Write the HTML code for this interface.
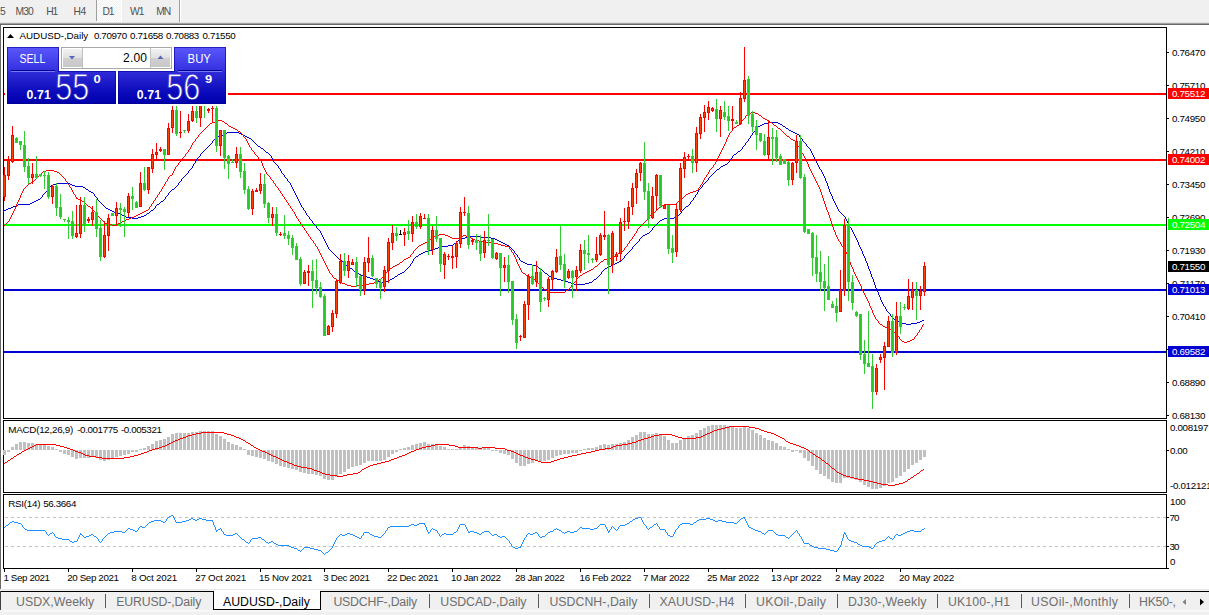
<!DOCTYPE html><html><head><meta charset="utf-8"><title>AUDUSD-,Daily</title>
<style>html,body{margin:0;padding:0;background:#f0f0f0;overflow:hidden}body{width:1209px;height:615px;position:relative;font-family:"Liberation Sans",sans-serif}svg{position:absolute;left:0;top:0;display:block}svg text{font-family:"Liberation Sans",sans-serif;white-space:pre}</style></head><body>
<svg width="1209" height="615" viewBox="0 0 1209 615" shape-rendering="crispEdges">
<defs><linearGradient id="gSell" gradientUnits="userSpaceOnUse" x1="0" y1="47" x2="0" y2="71"><stop offset="0" stop-color="#5a58fc"/><stop offset="1" stop-color="#3430e0"/></linearGradient><linearGradient id="gSellB" gradientUnits="userSpaceOnUse" x1="0" y1="47" x2="0" y2="71"><stop offset="0" stop-color="#2420c8"/><stop offset="1" stop-color="#1410b4"/></linearGradient><linearGradient id="gPriceB" gradientUnits="userSpaceOnUse" x1="0" y1="71" x2="0" y2="104"><stop offset="0" stop-color="#1410b8"/><stop offset="1" stop-color="#000098"/></linearGradient><linearGradient id="gPrice" gradientUnits="userSpaceOnUse" x1="0" y1="71" x2="0" y2="104"><stop offset="0" stop-color="#302cd8"/><stop offset="0.7" stop-color="#0808b8"/><stop offset="1" stop-color="#0000ac"/></linearGradient><linearGradient id="gBtn" x1="0" y1="0" x2="0" y2="1"><stop offset="0" stop-color="#f2f2f2"/><stop offset="0.5" stop-color="#e0e0e0"/><stop offset="0.5" stop-color="#d0d0d0"/><stop offset="1" stop-color="#c8c8c8"/></linearGradient><pattern id="chk" width="2" height="2" patternUnits="userSpaceOnUse"><rect width="2" height="2" fill="#ffffff"/><rect width="1" height="1" fill="#f0f0f0"/><rect x="1" y="1" width="1" height="1" fill="#f0f0f0"/></pattern><linearGradient id="gPrice2" gradientUnits="userSpaceOnUse" x1="0" y1="-28.6" x2="0" y2="4.4"><stop offset="0" stop-color="#302cd8"/><stop offset="0.7" stop-color="#0808b8"/><stop offset="1" stop-color="#0000ac"/></linearGradient></defs>
<rect x="0" y="0" width="1209" height="615" fill="#f0f0f0" />
<rect x="0" y="22" width="1209" height="1" fill="#e3e3e3" />
<rect x="0" y="23" width="1209" height="1" fill="#a0a0a0" />
<rect x="0" y="24" width="1209" height="1" fill="#696969" />
<rect x="0" y="25" width="1209" height="564" fill="#ffffff" />
<rect x="0" y="25" width="1" height="564" fill="#696969" />
<rect x="96" y="0" width="1" height="21" fill="#a0a0a0" />
<rect x="97" y="0" width="25" height="22" fill="#ffffff" />
<rect x="97" y="0" width="24" height="21" fill="url(#chk)" />
<rect x="179" y="0" width="1" height="22" fill="#a0a0a0" />
<rect x="180" y="0" width="1" height="22" fill="#ffffff" />
<text x="0" y="15" font-size="10.3" fill="#505050" font-weight="normal" text-anchor="start" textLength="4.6" lengthAdjust="spacing" >5</text>
<text x="15.5" y="15" font-size="10.3" fill="#505050" font-weight="normal" text-anchor="start" textLength="18.2" lengthAdjust="spacing" >M30</text>
<text x="46.3" y="15" font-size="10.3" fill="#505050" font-weight="normal" text-anchor="start" textLength="12" lengthAdjust="spacing" >H1</text>
<text x="73.6" y="15" font-size="10.3" fill="#505050" font-weight="normal" text-anchor="start" textLength="12.6" lengthAdjust="spacing" >H4</text>
<text x="102.4" y="15" font-size="10.3" fill="#505050" font-weight="normal" text-anchor="start" textLength="12" lengthAdjust="spacing" >D1</text>
<text x="130" y="15" font-size="10.3" fill="#505050" font-weight="normal" text-anchor="start" textLength="14.4" lengthAdjust="spacing" >W1</text>
<text x="156.3" y="15" font-size="10.3" fill="#505050" font-weight="normal" text-anchor="start" textLength="15" lengthAdjust="spacing" >MN</text>
<rect x="3.5" y="27.5" width="1163" height="391" fill="#fff" stroke="#000" stroke-width="1"/>
<rect x="3.5" y="420.5" width="1163" height="72" fill="#fff" stroke="#000" stroke-width="1"/>
<rect x="3.5" y="494.5" width="1163" height="74" fill="#fff" stroke="#000" stroke-width="1"/>
<rect x="4" y="93" width="1162" height="2" fill="#ff0000" />
<rect x="4" y="159" width="1162" height="2" fill="#ff0000" />
<rect x="4" y="224" width="1162" height="2" fill="#00ff00" />
<rect x="4" y="289" width="1162" height="2" fill="#0000d2" />
<rect x="4" y="351" width="1162" height="2" fill="#0000d2" />
<path d="M769 122.5h9M764 123.5h5M778 123.5h2M762 124.5h2M780 124.5h2M760 125.5h2M782 125.5h1M758 126.5h2M783 126.5h2M757 127.5h1M785 127.5h1M756 128.5h1M786 128.5h2M756 129.5h1M788 129.5h1M755 130.5h1M789 130.5h2M754 131.5h1M791 131.5h2M227 132.5h12M753 132.5h1M793 132.5h2M225 133.5h2M239 133.5h2M752 133.5h1M795 133.5h2M223 134.5h2M241 134.5h2M752 134.5h1M797 134.5h2M220 135.5h3M243 135.5h2M751 135.5h1M799 135.5h1M218 136.5h2M245 136.5h2M750 136.5h1M799 136.5h1M216 137.5h2M247 137.5h2M750 137.5h1M800 137.5h1M215 138.5h1M249 138.5h2M749 138.5h1M801 138.5h1M214 139.5h1M251 139.5h1M748 139.5h1M802 139.5h1M213 140.5h1M252 140.5h1M748 140.5h1M802 140.5h1M212 141.5h1M253 141.5h1M747 141.5h1M803 141.5h1M212 142.5h1M254 142.5h1M746 142.5h1M804 142.5h1M211 143.5h1M255 143.5h1M745 143.5h1M805 143.5h1M210 144.5h1M256 144.5h1M745 144.5h1M806 144.5h1M209 145.5h1M257 145.5h1M744 145.5h1M806 145.5h1M208 146.5h1M258 146.5h2M743 146.5h1M807 146.5h1M207 147.5h1M260 147.5h1M742 147.5h1M808 147.5h1M206 148.5h1M261 148.5h2M742 148.5h1M809 148.5h1M205 149.5h1M263 149.5h1M741 149.5h1M810 149.5h1M204 150.5h1M264 150.5h1M740 150.5h1M810 150.5h1M203 151.5h1M265 151.5h1M738 151.5h2M811 151.5h1M202 152.5h1M266 152.5h2M737 152.5h1M811 152.5h1M201 153.5h1M268 153.5h1M736 153.5h1M812 153.5h1M200 154.5h1M269 154.5h1M734 154.5h2M812 154.5h1M200 155.5h1M270 155.5h1M733 155.5h1M813 155.5h1M199 156.5h1M271 156.5h1M732 156.5h1M813 156.5h1M198 157.5h1M271 157.5h1M732 157.5h1M814 157.5h1M197 158.5h1M272 158.5h1M731 158.5h1M814 158.5h1M196 159.5h1M272 159.5h1M730 159.5h1M815 159.5h1M196 160.5h1M273 160.5h1M729 160.5h1M815 160.5h1M195 161.5h1M273 161.5h1M729 161.5h1M816 161.5h1M195 162.5h1M274 162.5h1M728 162.5h1M816 162.5h1M194 163.5h1M275 163.5h1M727 163.5h1M817 163.5h1M193 164.5h1M276 164.5h1M725 164.5h2M817 164.5h1M193 165.5h1M277 165.5h1M723 165.5h2M818 165.5h1M192 166.5h1M278 166.5h1M721 166.5h2M818 166.5h1M192 167.5h1M278 167.5h1M720 167.5h1M819 167.5h1M191 168.5h1M279 168.5h1M719 168.5h1M819 168.5h1M190 169.5h1M280 169.5h1M717 169.5h2M820 169.5h1M189 170.5h1M280 170.5h1M716 170.5h1M821 170.5h1M188 171.5h1M281 171.5h1M715 171.5h1M821 171.5h1M188 172.5h1M281 172.5h1M714 172.5h1M822 172.5h1M187 173.5h1M282 173.5h1M713 173.5h1M822 173.5h1M186 174.5h1M283 174.5h1M712 174.5h1M823 174.5h1M185 175.5h1M284 175.5h1M711 175.5h1M823 175.5h1M184 176.5h1M284 176.5h1M710 176.5h1M824 176.5h1M183 177.5h1M285 177.5h1M709 177.5h1M824 177.5h1M182 178.5h1M286 178.5h1M708 178.5h1M825 178.5h1M181 179.5h1M287 179.5h1M708 179.5h1M825 179.5h1M181 180.5h1M287 180.5h1M707 180.5h1M825 180.5h1M180 181.5h1M288 181.5h1M706 181.5h1M826 181.5h1M179 182.5h1M289 182.5h1M705 182.5h1M826 182.5h1M57 183.5h13M178 183.5h1M290 183.5h1M704 183.5h1M827 183.5h1M53 184.5h4M70 184.5h2M178 184.5h1M290 184.5h1M703 184.5h1M827 184.5h1M51 185.5h2M72 185.5h3M177 185.5h1M291 185.5h1M702 185.5h1M827 185.5h1M50 186.5h1M75 186.5h8M176 186.5h1M291 186.5h1M702 186.5h1M828 186.5h1M49 187.5h1M83 187.5h2M175 187.5h1M292 187.5h1M701 187.5h1M828 187.5h1M48 188.5h1M85 188.5h1M174 188.5h1M292 188.5h1M700 188.5h1M828 188.5h1M48 189.5h1M86 189.5h2M172 189.5h2M293 189.5h1M699 189.5h1M829 189.5h1M47 190.5h1M88 190.5h1M171 190.5h1M293 190.5h1M698 190.5h1M829 190.5h1M46 191.5h1M89 191.5h2M170 191.5h1M294 191.5h1M698 191.5h1M829 191.5h1M45 192.5h1M91 192.5h2M169 192.5h1M294 192.5h1M697 192.5h1M830 192.5h1M44 193.5h1M93 193.5h1M168 193.5h1M295 193.5h1M697 193.5h1M830 193.5h1M43 194.5h1M94 194.5h1M168 194.5h1M295 194.5h1M696 194.5h1M831 194.5h1M42 195.5h1M94 195.5h1M167 195.5h1M296 195.5h1M695 195.5h1M831 195.5h1M42 196.5h1M95 196.5h1M166 196.5h1M296 196.5h1M695 196.5h1M832 196.5h1M41 197.5h1M96 197.5h1M165 197.5h1M297 197.5h1M694 197.5h1M832 197.5h1M40 198.5h1M97 198.5h1M165 198.5h1M297 198.5h1M693 198.5h1M832 198.5h1M38 199.5h2M97 199.5h1M164 199.5h1M298 199.5h1M693 199.5h1M833 199.5h1M36 200.5h2M98 200.5h1M163 200.5h1M298 200.5h1M692 200.5h1M833 200.5h1M34 201.5h2M99 201.5h1M161 201.5h2M299 201.5h1M691 201.5h1M834 201.5h1M32 202.5h2M100 202.5h1M160 202.5h1M299 202.5h1M690 202.5h1M834 202.5h1M30 203.5h2M101 203.5h1M159 203.5h1M300 203.5h1M690 203.5h1M835 203.5h1M18 204.5h12M102 204.5h1M157 204.5h2M300 204.5h1M689 204.5h1M835 204.5h1M16 205.5h2M103 205.5h1M156 205.5h1M301 205.5h1M688 205.5h1M836 205.5h1M13 206.5h3M104 206.5h1M155 206.5h1M301 206.5h1M686 206.5h2M836 206.5h1M11 207.5h2M105 207.5h1M155 207.5h1M302 207.5h1M685 207.5h1M837 207.5h1M8 208.5h3M106 208.5h2M154 208.5h1M303 208.5h1M684 208.5h1M837 208.5h1M6 209.5h2M108 209.5h2M153 209.5h1M303 209.5h1M683 209.5h1M838 209.5h1M4 210.5h2M110 210.5h2M151 210.5h2M304 210.5h1M682 210.5h1M838 210.5h1M3 211.5h1M112 211.5h2M150 211.5h1M305 211.5h1M681 211.5h1M839 211.5h1M114 212.5h4M149 212.5h1M305 212.5h1M681 212.5h1M840 212.5h1M118 213.5h2M147 213.5h2M306 213.5h1M680 213.5h1M841 213.5h1M120 214.5h2M146 214.5h1M306 214.5h1M679 214.5h1M842 214.5h1M122 215.5h2M144 215.5h2M307 215.5h1M678 215.5h1M843 215.5h1M124 216.5h2M141 216.5h3M308 216.5h1M676 216.5h2M844 216.5h1M126 217.5h6M138 217.5h3M309 217.5h1M674 217.5h2M845 217.5h1M132 218.5h6M309 218.5h1M664 218.5h10M845 218.5h1M310 219.5h1M662 219.5h2M846 219.5h1M311 220.5h1M660 220.5h2M846 220.5h1M312 221.5h1M659 221.5h1M847 221.5h1M312 222.5h1M658 222.5h1M847 222.5h1M313 223.5h1M657 223.5h1M848 223.5h1M314 224.5h1M656 224.5h1M848 224.5h1M315 225.5h1M655 225.5h1M849 225.5h1M316 226.5h1M654 226.5h1M849 226.5h1M316 227.5h1M653 227.5h1M850 227.5h1M317 228.5h1M652 228.5h1M851 228.5h1M318 229.5h1M652 229.5h1M851 229.5h1M319 230.5h1M651 230.5h1M852 230.5h1M320 231.5h1M650 231.5h1M852 231.5h1M320 232.5h1M649 232.5h1M853 232.5h1M321 233.5h1M647 233.5h2M853 233.5h1M321 234.5h1M645 234.5h2M854 234.5h1M322 235.5h1M643 235.5h2M854 235.5h1M322 236.5h1M468 236.5h12M642 236.5h1M855 236.5h1M323 237.5h1M465 237.5h3M480 237.5h11M641 237.5h1M855 237.5h1M323 238.5h1M462 238.5h3M491 238.5h4M640 238.5h1M856 238.5h1M324 239.5h1M460 239.5h2M495 239.5h2M639 239.5h1M856 239.5h1M324 240.5h1M458 240.5h2M497 240.5h2M639 240.5h1M857 240.5h1M325 241.5h1M457 241.5h1M499 241.5h2M638 241.5h1M857 241.5h1M325 242.5h1M456 242.5h1M501 242.5h2M637 242.5h1M858 242.5h1M326 243.5h1M454 243.5h2M503 243.5h2M636 243.5h1M858 243.5h1M326 244.5h1M453 244.5h1M505 244.5h2M635 244.5h1M858 244.5h1M327 245.5h1M448 245.5h5M507 245.5h2M634 245.5h1M859 245.5h1M327 246.5h1M442 246.5h6M509 246.5h1M633 246.5h1M859 246.5h1M328 247.5h1M438 247.5h4M510 247.5h1M632 247.5h1M860 247.5h1M328 248.5h1M435 248.5h3M511 248.5h1M632 248.5h1M860 248.5h1M329 249.5h1M432 249.5h3M512 249.5h1M631 249.5h1M861 249.5h1M330 250.5h1M428 250.5h4M513 250.5h1M630 250.5h1M861 250.5h1M331 251.5h1M425 251.5h3M514 251.5h1M629 251.5h1M862 251.5h1M332 252.5h1M423 252.5h2M514 252.5h1M628 252.5h1M862 252.5h1M333 253.5h1M421 253.5h2M515 253.5h1M627 253.5h1M862 253.5h1M334 254.5h1M419 254.5h2M516 254.5h1M626 254.5h1M863 254.5h1M335 255.5h1M418 255.5h1M517 255.5h1M625 255.5h1M863 255.5h1M336 256.5h1M416 256.5h2M517 256.5h1M624 256.5h1M864 256.5h1M337 257.5h1M415 257.5h1M518 257.5h1M624 257.5h1M864 257.5h1M338 258.5h1M414 258.5h1M519 258.5h1M623 258.5h1M865 258.5h1M339 259.5h2M413 259.5h1M519 259.5h1M622 259.5h1M865 259.5h1M341 260.5h1M413 260.5h1M520 260.5h1M621 260.5h1M865 260.5h1M342 261.5h1M412 261.5h1M521 261.5h2M619 261.5h2M866 261.5h1M343 262.5h1M412 262.5h1M523 262.5h2M617 262.5h2M866 262.5h1M344 263.5h1M411 263.5h1M525 263.5h2M615 263.5h2M867 263.5h1M345 264.5h1M410 264.5h1M527 264.5h5M613 264.5h2M867 264.5h1M346 265.5h2M410 265.5h1M532 265.5h4M611 265.5h2M867 265.5h1M348 266.5h1M409 266.5h1M536 266.5h2M609 266.5h2M868 266.5h1M349 267.5h1M408 267.5h1M538 267.5h1M607 267.5h2M868 267.5h1M350 268.5h2M407 268.5h1M539 268.5h1M605 268.5h2M868 268.5h1M352 269.5h1M406 269.5h1M540 269.5h2M604 269.5h1M869 269.5h1M353 270.5h1M405 270.5h1M542 270.5h1M603 270.5h1M869 270.5h1M354 271.5h2M404 271.5h1M543 271.5h1M602 271.5h1M870 271.5h1M356 272.5h1M402 272.5h2M544 272.5h1M601 272.5h1M870 272.5h1M357 273.5h2M400 273.5h2M545 273.5h2M601 273.5h1M870 273.5h1M359 274.5h2M398 274.5h2M547 274.5h1M600 274.5h1M871 274.5h1M361 275.5h2M397 275.5h1M548 275.5h1M599 275.5h1M871 275.5h1M363 276.5h4M395 276.5h2M549 276.5h2M598 276.5h1M871 276.5h1M367 277.5h3M394 277.5h1M551 277.5h3M597 277.5h1M872 277.5h1M370 278.5h3M392 278.5h2M554 278.5h3M596 278.5h1M872 278.5h1M373 279.5h3M390 279.5h2M557 279.5h4M594 279.5h2M873 279.5h1M376 280.5h2M388 280.5h2M561 280.5h3M593 280.5h1M873 280.5h1M378 281.5h2M384 281.5h4M564 281.5h4M592 281.5h1M873 281.5h1M380 282.5h4M568 282.5h3M589 282.5h3M874 282.5h1M571 283.5h3M585 283.5h4M874 283.5h1M574 284.5h11M874 284.5h1M875 285.5h1M875 286.5h1M875 287.5h1M876 288.5h1M876 289.5h1M877 290.5h1M877 291.5h1M878 292.5h1M878 293.5h1M878 294.5h1M879 295.5h1M879 296.5h1M880 297.5h1M880 298.5h1M880 299.5h1M881 300.5h1M881 301.5h1M882 302.5h1M882 303.5h1M883 304.5h1M883 305.5h1M884 306.5h1M885 307.5h1M885 308.5h1M886 309.5h1M886 310.5h1M887 311.5h1M888 312.5h1M889 313.5h1M890 314.5h1M890 315.5h1M891 316.5h1M892 317.5h1M893 318.5h1M894 319.5h2M896 320.5h2M922 320.5h2M898 321.5h2M920 321.5h2M900 322.5h2M917 322.5h3M902 323.5h4M911 323.5h6M906 324.5h5" fill="none" stroke="#0000d2" stroke-width="1"/>
<path d="M751 112.5h4M749 113.5h2M755 113.5h3M747 114.5h2M758 114.5h1M746 115.5h1M759 115.5h2M745 116.5h1M761 116.5h1M745 117.5h1M762 117.5h1M744 118.5h1M763 118.5h2M743 119.5h1M765 119.5h2M218 120.5h4M742 120.5h1M767 120.5h2M215 121.5h3M222 121.5h2M741 121.5h1M769 121.5h1M212 122.5h3M224 122.5h1M741 122.5h1M770 122.5h2M210 123.5h2M225 123.5h2M740 123.5h1M772 123.5h1M209 124.5h1M227 124.5h1M739 124.5h1M773 124.5h1M208 125.5h1M228 125.5h1M737 125.5h2M774 125.5h2M207 126.5h1M229 126.5h2M736 126.5h1M776 126.5h1M206 127.5h1M231 127.5h2M734 127.5h2M777 127.5h1M205 128.5h1M233 128.5h2M733 128.5h1M778 128.5h2M204 129.5h1M235 129.5h2M732 129.5h1M780 129.5h1M203 130.5h1M237 130.5h1M732 130.5h1M781 130.5h1M202 131.5h1M238 131.5h2M731 131.5h1M782 131.5h1M201 132.5h1M240 132.5h1M730 132.5h1M783 132.5h1M200 133.5h1M241 133.5h1M729 133.5h1M784 133.5h1M199 134.5h1M242 134.5h1M729 134.5h1M785 134.5h1M198 135.5h1M243 135.5h1M728 135.5h1M786 135.5h1M198 136.5h1M243 136.5h1M728 136.5h1M787 136.5h2M197 137.5h1M244 137.5h1M727 137.5h1M789 137.5h1M196 138.5h1M245 138.5h1M727 138.5h1M790 138.5h1M195 139.5h1M246 139.5h1M726 139.5h1M791 139.5h2M195 140.5h1M246 140.5h1M726 140.5h1M793 140.5h2M194 141.5h1M247 141.5h1M726 141.5h1M795 141.5h1M193 142.5h1M247 142.5h1M725 142.5h1M796 142.5h1M192 143.5h1M248 143.5h1M725 143.5h1M796 143.5h1M192 144.5h1M248 144.5h1M724 144.5h1M797 144.5h1M191 145.5h1M249 145.5h1M724 145.5h1M797 145.5h1M191 146.5h1M249 146.5h1M723 146.5h1M798 146.5h1M190 147.5h1M250 147.5h1M723 147.5h1M799 147.5h1M190 148.5h1M251 148.5h1M722 148.5h1M799 148.5h1M189 149.5h1M251 149.5h1M722 149.5h1M800 149.5h1M188 150.5h1M252 150.5h1M721 150.5h1M800 150.5h1M188 151.5h1M253 151.5h1M721 151.5h1M801 151.5h1M187 152.5h1M254 152.5h1M720 152.5h1M801 152.5h1M186 153.5h1M254 153.5h1M720 153.5h1M802 153.5h1M185 154.5h1M255 154.5h1M719 154.5h1M803 154.5h1M185 155.5h1M256 155.5h1M719 155.5h1M803 155.5h1M184 156.5h1M257 156.5h1M718 156.5h1M804 156.5h1M183 157.5h1M258 157.5h1M718 157.5h1M804 157.5h1M182 158.5h1M258 158.5h1M717 158.5h1M805 158.5h1M181 159.5h1M259 159.5h1M717 159.5h1M805 159.5h1M181 160.5h1M260 160.5h1M716 160.5h1M806 160.5h1M180 161.5h1M261 161.5h1M716 161.5h1M806 161.5h1M179 162.5h1M261 162.5h1M715 162.5h1M807 162.5h1M178 163.5h1M262 163.5h1M715 163.5h1M807 163.5h1M178 164.5h1M262 164.5h1M714 164.5h1M808 164.5h1M177 165.5h1M262 165.5h1M713 165.5h1M808 165.5h1M176 166.5h1M263 166.5h1M713 166.5h1M808 166.5h1M175 167.5h1M263 167.5h1M712 167.5h1M809 167.5h1M175 168.5h1M264 168.5h1M711 168.5h1M809 168.5h1M174 169.5h1M264 169.5h1M710 169.5h1M810 169.5h1M46 170.5h8M174 170.5h1M265 170.5h1M709 170.5h1M810 170.5h1M43 171.5h3M54 171.5h3M173 171.5h1M265 171.5h1M709 171.5h1M811 171.5h1M42 172.5h1M57 172.5h2M173 172.5h1M266 172.5h1M708 172.5h1M811 172.5h1M41 173.5h1M59 173.5h1M172 173.5h1M266 173.5h1M708 173.5h1M812 173.5h1M40 174.5h1M60 174.5h1M172 174.5h1M267 174.5h1M707 174.5h1M812 174.5h1M39 175.5h1M61 175.5h1M170 175.5h2M268 175.5h1M706 175.5h1M813 175.5h1M38 176.5h1M62 176.5h1M169 176.5h1M269 176.5h1M706 176.5h1M813 176.5h1M37 177.5h1M63 177.5h1M168 177.5h1M270 177.5h1M705 177.5h1M814 177.5h1M36 178.5h1M64 178.5h1M168 178.5h1M270 178.5h1M704 178.5h1M814 178.5h1M35 179.5h1M65 179.5h1M167 179.5h1M271 179.5h1M704 179.5h1M815 179.5h1M34 180.5h1M65 180.5h1M167 180.5h1M272 180.5h1M703 180.5h1M815 180.5h1M33 181.5h1M66 181.5h1M166 181.5h1M273 181.5h1M703 181.5h1M816 181.5h1M31 182.5h2M67 182.5h1M165 182.5h1M273 182.5h1M702 182.5h1M816 182.5h1M29 183.5h2M67 183.5h1M165 183.5h1M274 183.5h1M702 183.5h1M817 183.5h1M28 184.5h1M68 184.5h1M164 184.5h1M275 184.5h1M701 184.5h1M817 184.5h1M27 185.5h1M69 185.5h1M164 185.5h1M275 185.5h1M700 185.5h1M818 185.5h1M26 186.5h1M69 186.5h1M163 186.5h1M276 186.5h1M700 186.5h1M818 186.5h1M25 187.5h1M70 187.5h1M162 187.5h1M277 187.5h1M699 187.5h1M819 187.5h1M24 188.5h1M71 188.5h1M162 188.5h1M278 188.5h1M698 188.5h1M819 188.5h1M23 189.5h1M71 189.5h1M161 189.5h1M278 189.5h1M698 189.5h1M820 189.5h1M23 190.5h1M72 190.5h1M161 190.5h1M279 190.5h1M696 190.5h2M820 190.5h1M22 191.5h1M72 191.5h1M160 191.5h1M280 191.5h1M693 191.5h3M820 191.5h1M22 192.5h1M73 192.5h1M159 192.5h1M280 192.5h1M690 192.5h3M821 192.5h1M21 193.5h1M73 193.5h1M159 193.5h1M281 193.5h1M688 193.5h2M821 193.5h1M21 194.5h1M74 194.5h1M158 194.5h1M282 194.5h1M686 194.5h2M821 194.5h1M20 195.5h1M75 195.5h1M157 195.5h1M282 195.5h1M685 195.5h1M822 195.5h1M20 196.5h1M75 196.5h1M157 196.5h1M283 196.5h1M684 196.5h1M822 196.5h1M20 197.5h1M76 197.5h1M156 197.5h1M284 197.5h1M683 197.5h1M822 197.5h1M19 198.5h1M76 198.5h2M155 198.5h1M284 198.5h1M682 198.5h1M823 198.5h1M19 199.5h1M78 199.5h3M155 199.5h1M285 199.5h1M681 199.5h1M823 199.5h1M18 200.5h1M81 200.5h1M154 200.5h1M286 200.5h1M680 200.5h1M823 200.5h1M18 201.5h1M82 201.5h2M153 201.5h1M286 201.5h1M678 201.5h2M824 201.5h1M17 202.5h1M84 202.5h1M153 202.5h1M287 202.5h1M677 202.5h1M824 202.5h1M17 203.5h1M85 203.5h1M152 203.5h1M288 203.5h1M676 203.5h1M824 203.5h1M16 204.5h1M86 204.5h1M151 204.5h1M288 204.5h1M664 204.5h12M825 204.5h1M16 205.5h1M87 205.5h1M151 205.5h1M289 205.5h1M662 205.5h2M825 205.5h1M16 206.5h1M88 206.5h2M150 206.5h1M290 206.5h1M661 206.5h1M825 206.5h1M15 207.5h1M90 207.5h1M149 207.5h1M290 207.5h1M659 207.5h2M826 207.5h1M15 208.5h1M91 208.5h1M149 208.5h1M291 208.5h1M658 208.5h1M826 208.5h1M14 209.5h1M92 209.5h1M148 209.5h1M292 209.5h1M657 209.5h1M826 209.5h1M14 210.5h1M93 210.5h1M146 210.5h2M292 210.5h1M656 210.5h1M827 210.5h1M13 211.5h1M94 211.5h1M144 211.5h2M293 211.5h1M655 211.5h1M827 211.5h1M13 212.5h1M95 212.5h1M142 212.5h2M294 212.5h1M654 212.5h1M828 212.5h1M12 213.5h1M96 213.5h1M140 213.5h2M294 213.5h1M652 213.5h2M828 213.5h1M12 214.5h1M96 214.5h1M138 214.5h2M295 214.5h1M651 214.5h1M828 214.5h1M11 215.5h1M97 215.5h1M136 215.5h2M295 215.5h1M650 215.5h1M829 215.5h1M11 216.5h1M98 216.5h1M134 216.5h2M296 216.5h1M649 216.5h1M829 216.5h1M10 217.5h1M99 217.5h1M131 217.5h3M296 217.5h1M648 217.5h1M829 217.5h1M10 218.5h1M100 218.5h1M129 218.5h2M297 218.5h1M647 218.5h1M830 218.5h1M9 219.5h1M101 219.5h1M126 219.5h3M298 219.5h1M647 219.5h1M830 219.5h1M9 220.5h1M102 220.5h1M124 220.5h2M298 220.5h1M646 220.5h1M830 220.5h1M8 221.5h1M103 221.5h1M122 221.5h2M299 221.5h1M645 221.5h1M831 221.5h1M7 222.5h1M104 222.5h1M120 222.5h2M300 222.5h1M644 222.5h1M831 222.5h1M6 223.5h1M105 223.5h2M118 223.5h2M300 223.5h1M643 223.5h1M831 223.5h1M5 224.5h1M107 224.5h5M116 224.5h2M301 224.5h1M642 224.5h1M832 224.5h1M4 225.5h1M112 225.5h4M302 225.5h1M641 225.5h1M832 225.5h1M302 226.5h1M640 226.5h1M832 226.5h1M303 227.5h1M639 227.5h1M833 227.5h1M304 228.5h1M638 228.5h1M833 228.5h1M304 229.5h1M637 229.5h1M833 229.5h1M305 230.5h1M637 230.5h1M834 230.5h1M306 231.5h1M636 231.5h1M834 231.5h1M306 232.5h1M636 232.5h1M835 232.5h1M307 233.5h1M635 233.5h1M835 233.5h1M308 234.5h1M439 234.5h6M634 234.5h1M835 234.5h1M308 235.5h1M435 235.5h4M445 235.5h3M463 235.5h3M634 235.5h1M836 235.5h1M309 236.5h1M434 236.5h1M448 236.5h2M461 236.5h2M466 236.5h3M633 236.5h1M836 236.5h1M310 237.5h1M432 237.5h2M450 237.5h2M459 237.5h2M469 237.5h2M632 237.5h1M837 237.5h1M310 238.5h1M431 238.5h1M452 238.5h7M471 238.5h2M632 238.5h1M837 238.5h1M311 239.5h1M430 239.5h1M473 239.5h2M631 239.5h1M838 239.5h1M312 240.5h1M428 240.5h2M475 240.5h4M630 240.5h1M838 240.5h1M313 241.5h1M427 241.5h1M479 241.5h5M629 241.5h1M839 241.5h1M313 242.5h1M425 242.5h2M484 242.5h8M629 242.5h1M840 242.5h1M314 243.5h1M423 243.5h2M492 243.5h6M628 243.5h1M840 243.5h1M315 244.5h1M421 244.5h2M498 244.5h3M627 244.5h1M841 244.5h1M315 245.5h1M419 245.5h2M501 245.5h4M627 245.5h1M841 245.5h1M316 246.5h1M418 246.5h1M505 246.5h4M626 246.5h1M842 246.5h1M317 247.5h1M417 247.5h1M509 247.5h1M625 247.5h1M843 247.5h1M317 248.5h1M416 248.5h1M509 248.5h1M624 248.5h1M843 248.5h1M318 249.5h1M415 249.5h1M510 249.5h1M624 249.5h1M844 249.5h1M318 250.5h1M414 250.5h1M511 250.5h1M623 250.5h1M845 250.5h1M319 251.5h1M413 251.5h1M511 251.5h1M621 251.5h2M845 251.5h1M319 252.5h1M413 252.5h1M512 252.5h1M620 252.5h1M846 252.5h1M320 253.5h1M412 253.5h1M513 253.5h1M618 253.5h2M846 253.5h1M320 254.5h1M411 254.5h1M513 254.5h1M617 254.5h1M847 254.5h1M321 255.5h1M410 255.5h1M514 255.5h1M616 255.5h1M847 255.5h1M321 256.5h1M410 256.5h1M514 256.5h1M614 256.5h2M847 256.5h1M322 257.5h1M408 257.5h2M515 257.5h1M613 257.5h1M848 257.5h1M322 258.5h1M406 258.5h2M515 258.5h1M608 258.5h5M848 258.5h1M323 259.5h1M404 259.5h2M516 259.5h1M604 259.5h4M849 259.5h1M323 260.5h1M403 260.5h1M516 260.5h1M603 260.5h1M849 260.5h1M324 261.5h1M402 261.5h1M516 261.5h1M601 261.5h2M849 261.5h1M324 262.5h1M400 262.5h2M517 262.5h1M600 262.5h1M850 262.5h1M325 263.5h1M399 263.5h1M517 263.5h1M599 263.5h1M850 263.5h1M325 264.5h1M397 264.5h2M518 264.5h1M598 264.5h1M850 264.5h1M326 265.5h1M395 265.5h2M518 265.5h1M597 265.5h1M851 265.5h1M326 266.5h1M393 266.5h2M519 266.5h1M595 266.5h2M851 266.5h1M327 267.5h1M392 267.5h1M519 267.5h1M594 267.5h1M852 267.5h1M327 268.5h1M390 268.5h2M520 268.5h1M593 268.5h1M852 268.5h1M328 269.5h1M389 269.5h1M520 269.5h1M591 269.5h2M853 269.5h1M328 270.5h1M388 270.5h1M521 270.5h1M589 270.5h2M853 270.5h1M329 271.5h1M387 271.5h1M521 271.5h1M587 271.5h2M853 271.5h1M329 272.5h1M386 272.5h1M522 272.5h1M585 272.5h2M854 272.5h1M330 273.5h1M385 273.5h1M523 273.5h2M583 273.5h2M854 273.5h1M331 274.5h1M385 274.5h1M525 274.5h1M582 274.5h1M855 274.5h1M332 275.5h1M384 275.5h1M526 275.5h2M580 275.5h2M855 275.5h1M332 276.5h1M383 276.5h1M528 276.5h2M579 276.5h1M856 276.5h1M333 277.5h1M382 277.5h1M530 277.5h2M578 277.5h1M856 277.5h1M334 278.5h2M381 278.5h1M532 278.5h2M577 278.5h1M857 278.5h1M336 279.5h1M379 279.5h2M534 279.5h1M576 279.5h1M857 279.5h1M337 280.5h2M378 280.5h1M535 280.5h1M576 280.5h1M858 280.5h1M339 281.5h1M376 281.5h2M536 281.5h1M575 281.5h1M858 281.5h1M340 282.5h2M374 282.5h2M537 282.5h1M574 282.5h1M859 282.5h1M342 283.5h3M369 283.5h5M538 283.5h1M573 283.5h1M859 283.5h1M345 284.5h2M363 284.5h6M539 284.5h1M572 284.5h1M860 284.5h1M347 285.5h4M357 285.5h6M540 285.5h1M571 285.5h1M860 285.5h1M351 286.5h6M541 286.5h1M571 286.5h1M861 286.5h1M542 287.5h1M570 287.5h1M861 287.5h1M543 288.5h1M569 288.5h1M861 288.5h1M544 289.5h2M568 289.5h1M862 289.5h1M546 290.5h1M566 290.5h2M862 290.5h1M547 291.5h2M565 291.5h1M863 291.5h1M549 292.5h16M863 292.5h1M864 293.5h1M864 294.5h1M865 295.5h1M865 296.5h1M866 297.5h1M866 298.5h1M867 299.5h1M867 300.5h1M868 301.5h1M868 302.5h1M869 303.5h1M869 304.5h1M869 305.5h1M870 306.5h1M870 307.5h1M871 308.5h1M871 309.5h1M872 310.5h1M872 311.5h1M872 312.5h1M873 313.5h1M873 314.5h1M874 315.5h1M874 316.5h1M875 317.5h1M875 318.5h1M876 319.5h1M877 320.5h1M878 321.5h1M878 322.5h1M879 323.5h1M880 324.5h2M923 324.5h1M882 325.5h1M922 325.5h1M883 326.5h2M922 326.5h1M885 327.5h2M921 327.5h1M887 328.5h3M921 328.5h1M890 329.5h2M920 329.5h1M892 330.5h1M919 330.5h1M893 331.5h1M919 331.5h1M894 332.5h1M918 332.5h1M895 333.5h1M917 333.5h1M896 334.5h1M917 334.5h1M897 335.5h1M916 335.5h1M898 336.5h1M915 336.5h1M899 337.5h1M914 337.5h1M899 338.5h1M914 338.5h1M900 339.5h1M912 339.5h2M901 340.5h1M910 340.5h2M902 341.5h2M907 341.5h3M904 342.5h3" fill="none" stroke="#ff0000" stroke-width="1"/>
<rect x="4" y="167" width="1" height="34" fill="#ff0000" />
<rect x="3" y="175" width="3" height="22" fill="#ff0000" />
<rect x="4" y="176" width="1" height="20" fill="#ff4000" />
<rect x="8" y="156" width="1" height="24" fill="#ff0000" />
<rect x="7" y="160" width="3" height="16" fill="#ff0000" />
<rect x="8" y="161" width="1" height="14" fill="#ff4000" />
<rect x="12" y="126" width="1" height="37" fill="#ff0000" />
<rect x="11" y="135" width="3" height="27" fill="#ff0000" />
<rect x="12" y="136" width="1" height="25" fill="#ff4000" />
<rect x="16" y="137" width="1" height="6" fill="#32cd32" />
<rect x="15" y="138" width="3" height="5" fill="#32cd32" />
<rect x="16" y="139" width="1" height="3" fill="#28c828" />
<rect x="20" y="141" width="1" height="9" fill="#32cd32" />
<rect x="19" y="141" width="3" height="4" fill="#32cd32" />
<rect x="20" y="142" width="1" height="2" fill="#28c828" />
<rect x="24" y="131" width="1" height="41" fill="#32cd32" />
<rect x="23" y="145" width="3" height="22" fill="#32cd32" />
<rect x="24" y="146" width="1" height="20" fill="#28c828" />
<rect x="28" y="158" width="1" height="26" fill="#32cd32" />
<rect x="27" y="166" width="3" height="12" fill="#32cd32" />
<rect x="28" y="167" width="1" height="10" fill="#28c828" />
<rect x="32" y="163" width="1" height="21" fill="#ff0000" />
<rect x="31" y="174" width="3" height="4" fill="#ff0000" />
<rect x="32" y="175" width="1" height="2" fill="#ff4000" />
<rect x="36" y="156" width="1" height="23" fill="#32cd32" />
<rect x="35" y="174" width="3" height="4" fill="#32cd32" />
<rect x="36" y="175" width="1" height="2" fill="#28c828" />
<rect x="40" y="174" width="1" height="3" fill="#32cd32" />
<rect x="39" y="174" width="3" height="2" fill="#32cd32" />
<rect x="44" y="171" width="1" height="18" fill="#32cd32" />
<rect x="43" y="175" width="3" height="1" fill="#32cd32" />
<rect x="48" y="172" width="1" height="27" fill="#32cd32" />
<rect x="47" y="175" width="3" height="22" fill="#32cd32" />
<rect x="48" y="176" width="1" height="20" fill="#28c828" />
<rect x="52" y="185" width="1" height="19" fill="#ff0000" />
<rect x="51" y="186" width="3" height="11" fill="#ff0000" />
<rect x="52" y="187" width="1" height="9" fill="#ff4000" />
<rect x="56" y="183" width="1" height="33" fill="#32cd32" />
<rect x="55" y="186" width="3" height="22" fill="#32cd32" />
<rect x="56" y="187" width="1" height="20" fill="#28c828" />
<rect x="60" y="194" width="1" height="25" fill="#32cd32" />
<rect x="59" y="207" width="3" height="10" fill="#32cd32" />
<rect x="60" y="208" width="1" height="8" fill="#28c828" />
<rect x="64" y="219" width="1" height="3" fill="#32cd32" />
<rect x="63" y="219" width="3" height="1" fill="#32cd32" />
<rect x="68" y="217" width="1" height="22" fill="#32cd32" />
<rect x="67" y="220" width="3" height="2" fill="#32cd32" />
<rect x="72" y="211" width="1" height="28" fill="#32cd32" />
<rect x="71" y="221" width="3" height="15" fill="#32cd32" />
<rect x="72" y="222" width="1" height="13" fill="#28c828" />
<rect x="76" y="205" width="1" height="33" fill="#ff0000" />
<rect x="75" y="233" width="3" height="4" fill="#ff0000" />
<rect x="76" y="234" width="1" height="2" fill="#ff4000" />
<rect x="80" y="197" width="1" height="41" fill="#ff0000" />
<rect x="79" y="205" width="3" height="29" fill="#ff0000" />
<rect x="80" y="206" width="1" height="27" fill="#ff4000" />
<rect x="84" y="197" width="1" height="35" fill="#32cd32" />
<rect x="83" y="205" width="3" height="21" fill="#32cd32" />
<rect x="84" y="206" width="1" height="19" fill="#28c828" />
<rect x="88" y="217" width="1" height="6" fill="#ff0000" />
<rect x="87" y="219" width="3" height="2" fill="#ff0000" />
<rect x="92" y="206" width="1" height="20" fill="#ff0000" />
<rect x="91" y="212" width="3" height="8" fill="#ff0000" />
<rect x="92" y="213" width="1" height="6" fill="#ff4000" />
<rect x="96" y="199" width="1" height="38" fill="#32cd32" />
<rect x="95" y="212" width="3" height="17" fill="#32cd32" />
<rect x="96" y="213" width="1" height="15" fill="#28c828" />
<rect x="100" y="220" width="1" height="41" fill="#32cd32" />
<rect x="99" y="228" width="3" height="29" fill="#32cd32" />
<rect x="100" y="229" width="1" height="27" fill="#28c828" />
<rect x="104" y="221" width="1" height="37" fill="#ff0000" />
<rect x="103" y="235" width="3" height="22" fill="#ff0000" />
<rect x="104" y="236" width="1" height="20" fill="#ff4000" />
<rect x="108" y="214" width="1" height="37" fill="#ff0000" />
<rect x="107" y="218" width="3" height="18" fill="#ff0000" />
<rect x="108" y="219" width="1" height="16" fill="#ff4000" />
<rect x="112" y="213" width="1" height="3" fill="#32cd32" />
<rect x="111" y="213" width="3" height="3" fill="#32cd32" />
<rect x="112" y="214" width="1" height="1" fill="#28c828" />
<rect x="116" y="202" width="1" height="24" fill="#ff0000" />
<rect x="115" y="208" width="3" height="8" fill="#ff0000" />
<rect x="116" y="209" width="1" height="6" fill="#ff4000" />
<rect x="120" y="203" width="1" height="24" fill="#32cd32" />
<rect x="119" y="208" width="3" height="2" fill="#32cd32" />
<rect x="124" y="207" width="1" height="30" fill="#32cd32" />
<rect x="123" y="209" width="3" height="3" fill="#32cd32" />
<rect x="124" y="210" width="1" height="1" fill="#28c828" />
<rect x="128" y="193" width="1" height="24" fill="#ff0000" />
<rect x="127" y="196" width="3" height="17" fill="#ff0000" />
<rect x="128" y="197" width="1" height="15" fill="#ff4000" />
<rect x="132" y="187" width="1" height="23" fill="#32cd32" />
<rect x="131" y="196" width="3" height="3" fill="#32cd32" />
<rect x="132" y="197" width="1" height="1" fill="#28c828" />
<rect x="136" y="201" width="1" height="7" fill="#32cd32" />
<rect x="135" y="202" width="3" height="6" fill="#32cd32" />
<rect x="136" y="203" width="1" height="4" fill="#28c828" />
<rect x="140" y="172" width="1" height="35" fill="#ff0000" />
<rect x="139" y="183" width="3" height="24" fill="#ff0000" />
<rect x="140" y="184" width="1" height="22" fill="#ff4000" />
<rect x="144" y="167" width="1" height="24" fill="#32cd32" />
<rect x="143" y="183" width="3" height="7" fill="#32cd32" />
<rect x="144" y="184" width="1" height="5" fill="#28c828" />
<rect x="148" y="167" width="1" height="27" fill="#ff0000" />
<rect x="147" y="167" width="3" height="23" fill="#ff0000" />
<rect x="148" y="168" width="1" height="21" fill="#ff4000" />
<rect x="152" y="149" width="1" height="24" fill="#ff0000" />
<rect x="151" y="154" width="3" height="15" fill="#ff0000" />
<rect x="152" y="155" width="1" height="13" fill="#ff4000" />
<rect x="156" y="143" width="1" height="17" fill="#ff0000" />
<rect x="155" y="152" width="3" height="3" fill="#ff0000" />
<rect x="156" y="153" width="1" height="1" fill="#ff4000" />
<rect x="160" y="147" width="1" height="5" fill="#ff0000" />
<rect x="159" y="149" width="3" height="2" fill="#ff0000" />
<rect x="164" y="149" width="1" height="21" fill="#32cd32" />
<rect x="163" y="149" width="3" height="6" fill="#32cd32" />
<rect x="164" y="150" width="1" height="4" fill="#28c828" />
<rect x="168" y="123" width="1" height="32" fill="#ff0000" />
<rect x="167" y="128" width="3" height="27" fill="#ff0000" />
<rect x="168" y="129" width="1" height="25" fill="#ff4000" />
<rect x="172" y="100" width="1" height="33" fill="#ff0000" />
<rect x="171" y="110" width="3" height="18" fill="#ff0000" />
<rect x="172" y="111" width="1" height="16" fill="#ff4000" />
<rect x="176" y="100" width="1" height="36" fill="#32cd32" />
<rect x="175" y="110" width="3" height="24" fill="#32cd32" />
<rect x="176" y="111" width="1" height="22" fill="#28c828" />
<rect x="180" y="111" width="1" height="27" fill="#ff0000" />
<rect x="179" y="132" width="3" height="1" fill="#ff0000" />
<rect x="184" y="130" width="1" height="3" fill="#32cd32" />
<rect x="183" y="130" width="3" height="1" fill="#32cd32" />
<rect x="188" y="114" width="1" height="19" fill="#ff0000" />
<rect x="187" y="121" width="3" height="10" fill="#ff0000" />
<rect x="188" y="122" width="1" height="8" fill="#ff4000" />
<rect x="192" y="100" width="1" height="22" fill="#ff0000" />
<rect x="191" y="111" width="3" height="10" fill="#ff0000" />
<rect x="192" y="112" width="1" height="8" fill="#ff4000" />
<rect x="196" y="100" width="1" height="23" fill="#32cd32" />
<rect x="195" y="111" width="3" height="7" fill="#32cd32" />
<rect x="196" y="112" width="1" height="5" fill="#28c828" />
<rect x="200" y="100" width="1" height="27" fill="#ff0000" />
<rect x="199" y="102" width="3" height="16" fill="#ff0000" />
<rect x="200" y="103" width="1" height="14" fill="#ff4000" />
<rect x="204" y="95" width="1" height="23" fill="#32cd32" />
<rect x="203" y="98" width="3" height="2" fill="#32cd32" />
<rect x="208" y="108" width="1" height="5" fill="#ff0000" />
<rect x="207" y="109" width="3" height="2" fill="#ff0000" />
<rect x="212" y="100" width="1" height="23" fill="#ff0000" />
<rect x="211" y="108" width="3" height="1" fill="#ff0000" />
<rect x="216" y="100" width="1" height="52" fill="#32cd32" />
<rect x="215" y="108" width="3" height="38" fill="#32cd32" />
<rect x="216" y="109" width="1" height="36" fill="#28c828" />
<rect x="220" y="130" width="1" height="26" fill="#ff0000" />
<rect x="219" y="130" width="3" height="16" fill="#ff0000" />
<rect x="220" y="131" width="1" height="14" fill="#ff4000" />
<rect x="224" y="130" width="1" height="39" fill="#32cd32" />
<rect x="223" y="130" width="3" height="28" fill="#32cd32" />
<rect x="224" y="131" width="1" height="26" fill="#28c828" />
<rect x="228" y="155" width="1" height="24" fill="#32cd32" />
<rect x="227" y="156" width="3" height="8" fill="#32cd32" />
<rect x="228" y="157" width="1" height="6" fill="#28c828" />
<rect x="232" y="159" width="1" height="4" fill="#32cd32" />
<rect x="231" y="162" width="3" height="1" fill="#32cd32" />
<rect x="236" y="147" width="1" height="21" fill="#ff0000" />
<rect x="235" y="154" width="3" height="9" fill="#ff0000" />
<rect x="236" y="155" width="1" height="7" fill="#ff4000" />
<rect x="240" y="147" width="1" height="31" fill="#32cd32" />
<rect x="239" y="154" width="3" height="18" fill="#32cd32" />
<rect x="240" y="155" width="1" height="16" fill="#28c828" />
<rect x="244" y="163" width="1" height="31" fill="#32cd32" />
<rect x="243" y="171" width="3" height="19" fill="#32cd32" />
<rect x="244" y="172" width="1" height="17" fill="#28c828" />
<rect x="248" y="186" width="1" height="24" fill="#32cd32" />
<rect x="247" y="189" width="3" height="20" fill="#32cd32" />
<rect x="248" y="190" width="1" height="18" fill="#28c828" />
<rect x="252" y="189" width="1" height="26" fill="#ff0000" />
<rect x="251" y="191" width="3" height="18" fill="#ff0000" />
<rect x="252" y="192" width="1" height="16" fill="#ff4000" />
<rect x="256" y="188" width="1" height="4" fill="#ff0000" />
<rect x="255" y="190" width="3" height="2" fill="#ff0000" />
<rect x="260" y="173" width="1" height="21" fill="#ff0000" />
<rect x="259" y="184" width="3" height="7" fill="#ff0000" />
<rect x="260" y="185" width="1" height="5" fill="#ff4000" />
<rect x="264" y="174" width="1" height="34" fill="#32cd32" />
<rect x="263" y="184" width="3" height="20" fill="#32cd32" />
<rect x="264" y="185" width="1" height="18" fill="#28c828" />
<rect x="268" y="202" width="1" height="21" fill="#32cd32" />
<rect x="267" y="203" width="3" height="15" fill="#32cd32" />
<rect x="268" y="204" width="1" height="13" fill="#28c828" />
<rect x="272" y="207" width="1" height="19" fill="#ff0000" />
<rect x="271" y="214" width="3" height="4" fill="#ff0000" />
<rect x="272" y="215" width="1" height="2" fill="#ff4000" />
<rect x="276" y="207" width="1" height="29" fill="#32cd32" />
<rect x="275" y="214" width="3" height="19" fill="#32cd32" />
<rect x="276" y="215" width="1" height="17" fill="#28c828" />
<rect x="280" y="232" width="1" height="4" fill="#ff0000" />
<rect x="279" y="234" width="3" height="1" fill="#ff0000" />
<rect x="284" y="215" width="1" height="24" fill="#32cd32" />
<rect x="283" y="233" width="3" height="3" fill="#32cd32" />
<rect x="284" y="234" width="1" height="1" fill="#28c828" />
<rect x="288" y="231" width="1" height="14" fill="#32cd32" />
<rect x="287" y="235" width="3" height="4" fill="#32cd32" />
<rect x="288" y="236" width="1" height="2" fill="#28c828" />
<rect x="292" y="235" width="1" height="20" fill="#32cd32" />
<rect x="291" y="238" width="3" height="10" fill="#32cd32" />
<rect x="292" y="239" width="1" height="8" fill="#28c828" />
<rect x="296" y="243" width="1" height="17" fill="#32cd32" />
<rect x="295" y="246" width="3" height="14" fill="#32cd32" />
<rect x="296" y="247" width="1" height="12" fill="#28c828" />
<rect x="300" y="257" width="1" height="29" fill="#32cd32" />
<rect x="299" y="259" width="3" height="25" fill="#32cd32" />
<rect x="300" y="260" width="1" height="23" fill="#28c828" />
<rect x="304" y="270" width="1" height="14" fill="#ff0000" />
<rect x="303" y="272" width="3" height="12" fill="#ff0000" />
<rect x="304" y="273" width="1" height="10" fill="#ff4000" />
<rect x="308" y="265" width="1" height="21" fill="#ff0000" />
<rect x="307" y="271" width="3" height="2" fill="#ff0000" />
<rect x="312" y="260" width="1" height="48" fill="#32cd32" />
<rect x="311" y="271" width="3" height="10" fill="#32cd32" />
<rect x="312" y="272" width="1" height="8" fill="#28c828" />
<rect x="316" y="259" width="1" height="35" fill="#32cd32" />
<rect x="315" y="280" width="3" height="8" fill="#32cd32" />
<rect x="316" y="281" width="1" height="6" fill="#28c828" />
<rect x="320" y="282" width="1" height="16" fill="#32cd32" />
<rect x="319" y="287" width="3" height="10" fill="#32cd32" />
<rect x="320" y="288" width="1" height="8" fill="#28c828" />
<rect x="324" y="294" width="1" height="42" fill="#32cd32" />
<rect x="323" y="296" width="3" height="40" fill="#32cd32" />
<rect x="324" y="297" width="1" height="38" fill="#28c828" />
<rect x="328" y="325" width="1" height="10" fill="#ff0000" />
<rect x="327" y="326" width="3" height="9" fill="#ff0000" />
<rect x="328" y="327" width="1" height="7" fill="#ff4000" />
<rect x="332" y="310" width="1" height="22" fill="#ff0000" />
<rect x="331" y="313" width="3" height="14" fill="#ff0000" />
<rect x="332" y="314" width="1" height="12" fill="#ff4000" />
<rect x="336" y="280" width="1" height="38" fill="#ff0000" />
<rect x="335" y="281" width="3" height="33" fill="#ff0000" />
<rect x="336" y="282" width="1" height="31" fill="#ff4000" />
<rect x="340" y="254" width="1" height="30" fill="#ff0000" />
<rect x="339" y="261" width="3" height="22" fill="#ff0000" />
<rect x="340" y="262" width="1" height="20" fill="#ff4000" />
<rect x="344" y="253" width="1" height="23" fill="#32cd32" />
<rect x="343" y="261" width="3" height="10" fill="#32cd32" />
<rect x="344" y="262" width="1" height="8" fill="#28c828" />
<rect x="348" y="255" width="1" height="23" fill="#ff0000" />
<rect x="347" y="261" width="3" height="10" fill="#ff0000" />
<rect x="348" y="262" width="1" height="8" fill="#ff4000" />
<rect x="352" y="259" width="1" height="6" fill="#ff0000" />
<rect x="351" y="262" width="3" height="3" fill="#ff0000" />
<rect x="352" y="263" width="1" height="1" fill="#ff4000" />
<rect x="356" y="257" width="1" height="30" fill="#32cd32" />
<rect x="355" y="262" width="3" height="16" fill="#32cd32" />
<rect x="356" y="263" width="1" height="14" fill="#28c828" />
<rect x="360" y="275" width="1" height="21" fill="#32cd32" />
<rect x="359" y="276" width="3" height="14" fill="#32cd32" />
<rect x="360" y="277" width="1" height="12" fill="#28c828" />
<rect x="364" y="257" width="1" height="38" fill="#ff0000" />
<rect x="363" y="262" width="3" height="28" fill="#ff0000" />
<rect x="364" y="263" width="1" height="26" fill="#ff4000" />
<rect x="368" y="237" width="1" height="35" fill="#ff0000" />
<rect x="367" y="258" width="3" height="5" fill="#ff0000" />
<rect x="368" y="259" width="1" height="3" fill="#ff4000" />
<rect x="372" y="255" width="1" height="22" fill="#32cd32" />
<rect x="371" y="258" width="3" height="18" fill="#32cd32" />
<rect x="372" y="259" width="1" height="16" fill="#28c828" />
<rect x="376" y="278" width="1" height="10" fill="#32cd32" />
<rect x="375" y="278" width="3" height="6" fill="#32cd32" />
<rect x="376" y="279" width="1" height="4" fill="#28c828" />
<rect x="380" y="279" width="1" height="20" fill="#32cd32" />
<rect x="379" y="282" width="3" height="6" fill="#32cd32" />
<rect x="380" y="283" width="1" height="4" fill="#28c828" />
<rect x="384" y="266" width="1" height="26" fill="#ff0000" />
<rect x="383" y="270" width="3" height="17" fill="#ff0000" />
<rect x="384" y="271" width="1" height="15" fill="#ff4000" />
<rect x="388" y="238" width="1" height="45" fill="#ff0000" />
<rect x="387" y="242" width="3" height="29" fill="#ff0000" />
<rect x="388" y="243" width="1" height="27" fill="#ff4000" />
<rect x="392" y="225" width="1" height="25" fill="#ff0000" />
<rect x="391" y="233" width="3" height="10" fill="#ff0000" />
<rect x="392" y="234" width="1" height="8" fill="#ff4000" />
<rect x="396" y="227" width="1" height="14" fill="#32cd32" />
<rect x="395" y="233" width="3" height="3" fill="#32cd32" />
<rect x="396" y="234" width="1" height="1" fill="#28c828" />
<rect x="400" y="230" width="1" height="5" fill="#000" />
<rect x="399" y="234" width="3" height="1" fill="#000" />
<rect x="404" y="228" width="1" height="18" fill="#ff0000" />
<rect x="403" y="232" width="3" height="3" fill="#ff0000" />
<rect x="404" y="233" width="1" height="1" fill="#ff4000" />
<rect x="408" y="220" width="1" height="20" fill="#32cd32" />
<rect x="407" y="231" width="3" height="3" fill="#32cd32" />
<rect x="408" y="232" width="1" height="1" fill="#28c828" />
<rect x="412" y="216" width="1" height="26" fill="#ff0000" />
<rect x="411" y="222" width="3" height="12" fill="#ff0000" />
<rect x="412" y="223" width="1" height="10" fill="#ff4000" />
<rect x="416" y="214" width="1" height="15" fill="#32cd32" />
<rect x="415" y="222" width="3" height="5" fill="#32cd32" />
<rect x="416" y="223" width="1" height="3" fill="#28c828" />
<rect x="420" y="213" width="1" height="16" fill="#ff0000" />
<rect x="419" y="216" width="3" height="11" fill="#ff0000" />
<rect x="420" y="217" width="1" height="9" fill="#ff4000" />
<rect x="424" y="214" width="1" height="5" fill="#ff0000" />
<rect x="423" y="218" width="3" height="1" fill="#ff0000" />
<rect x="428" y="214" width="1" height="41" fill="#32cd32" />
<rect x="427" y="218" width="3" height="32" fill="#32cd32" />
<rect x="428" y="219" width="1" height="30" fill="#28c828" />
<rect x="432" y="226" width="1" height="29" fill="#ff0000" />
<rect x="431" y="230" width="3" height="20" fill="#ff0000" />
<rect x="432" y="231" width="1" height="18" fill="#ff4000" />
<rect x="436" y="216" width="1" height="26" fill="#32cd32" />
<rect x="435" y="230" width="3" height="9" fill="#32cd32" />
<rect x="436" y="231" width="1" height="7" fill="#28c828" />
<rect x="440" y="238" width="1" height="34" fill="#32cd32" />
<rect x="439" y="238" width="3" height="26" fill="#32cd32" />
<rect x="440" y="239" width="1" height="24" fill="#28c828" />
<rect x="444" y="252" width="1" height="27" fill="#ff0000" />
<rect x="443" y="254" width="3" height="11" fill="#ff0000" />
<rect x="444" y="255" width="1" height="9" fill="#ff4000" />
<rect x="448" y="254" width="1" height="6" fill="#ff0000" />
<rect x="447" y="256" width="3" height="1" fill="#ff0000" />
<rect x="452" y="246" width="1" height="23" fill="#ff0000" />
<rect x="451" y="256" width="3" height="2" fill="#ff0000" />
<rect x="456" y="241" width="1" height="27" fill="#ff0000" />
<rect x="455" y="243" width="3" height="14" fill="#ff0000" />
<rect x="456" y="244" width="1" height="12" fill="#ff4000" />
<rect x="460" y="207" width="1" height="41" fill="#ff0000" />
<rect x="459" y="212" width="3" height="32" fill="#ff0000" />
<rect x="460" y="213" width="1" height="30" fill="#ff4000" />
<rect x="464" y="197" width="1" height="19" fill="#ff0000" />
<rect x="463" y="212" width="3" height="1" fill="#ff0000" />
<rect x="468" y="206" width="1" height="43" fill="#32cd32" />
<rect x="467" y="213" width="3" height="32" fill="#32cd32" />
<rect x="468" y="214" width="1" height="30" fill="#28c828" />
<rect x="472" y="238" width="1" height="7" fill="#ff0000" />
<rect x="471" y="240" width="3" height="2" fill="#ff0000" />
<rect x="476" y="234" width="1" height="16" fill="#32cd32" />
<rect x="475" y="240" width="3" height="3" fill="#32cd32" />
<rect x="476" y="241" width="1" height="1" fill="#28c828" />
<rect x="480" y="235" width="1" height="26" fill="#32cd32" />
<rect x="479" y="242" width="3" height="12" fill="#32cd32" />
<rect x="480" y="243" width="1" height="10" fill="#28c828" />
<rect x="484" y="231" width="1" height="27" fill="#ff0000" />
<rect x="483" y="240" width="3" height="13" fill="#ff0000" />
<rect x="484" y="241" width="1" height="11" fill="#ff4000" />
<rect x="488" y="214" width="1" height="32" fill="#32cd32" />
<rect x="487" y="240" width="3" height="1" fill="#32cd32" />
<rect x="492" y="239" width="1" height="20" fill="#32cd32" />
<rect x="491" y="239" width="3" height="19" fill="#32cd32" />
<rect x="492" y="240" width="1" height="17" fill="#28c828" />
<rect x="496" y="252" width="1" height="8" fill="#ff0000" />
<rect x="495" y="253" width="3" height="6" fill="#ff0000" />
<rect x="496" y="254" width="1" height="4" fill="#ff4000" />
<rect x="500" y="253" width="1" height="43" fill="#32cd32" />
<rect x="499" y="253" width="3" height="15" fill="#32cd32" />
<rect x="500" y="254" width="1" height="13" fill="#28c828" />
<rect x="504" y="257" width="1" height="25" fill="#ff0000" />
<rect x="503" y="265" width="3" height="3" fill="#ff0000" />
<rect x="504" y="266" width="1" height="1" fill="#ff4000" />
<rect x="508" y="255" width="1" height="38" fill="#32cd32" />
<rect x="507" y="265" width="3" height="17" fill="#32cd32" />
<rect x="508" y="266" width="1" height="15" fill="#28c828" />
<rect x="512" y="281" width="1" height="44" fill="#32cd32" />
<rect x="511" y="281" width="3" height="39" fill="#32cd32" />
<rect x="512" y="282" width="1" height="37" fill="#28c828" />
<rect x="516" y="314" width="1" height="35" fill="#32cd32" />
<rect x="515" y="319" width="3" height="24" fill="#32cd32" />
<rect x="516" y="320" width="1" height="22" fill="#28c828" />
<rect x="520" y="335" width="1" height="6" fill="#ff0000" />
<rect x="519" y="336" width="3" height="1" fill="#ff0000" />
<rect x="524" y="301" width="1" height="37" fill="#ff0000" />
<rect x="523" y="304" width="3" height="34" fill="#ff0000" />
<rect x="524" y="305" width="1" height="32" fill="#ff4000" />
<rect x="528" y="274" width="1" height="46" fill="#ff0000" />
<rect x="527" y="276" width="3" height="29" fill="#ff0000" />
<rect x="528" y="277" width="1" height="27" fill="#ff4000" />
<rect x="532" y="265" width="1" height="20" fill="#32cd32" />
<rect x="531" y="276" width="3" height="8" fill="#32cd32" />
<rect x="532" y="277" width="1" height="6" fill="#28c828" />
<rect x="536" y="261" width="1" height="26" fill="#ff0000" />
<rect x="535" y="272" width="3" height="10" fill="#ff0000" />
<rect x="536" y="273" width="1" height="8" fill="#ff4000" />
<rect x="540" y="268" width="1" height="44" fill="#32cd32" />
<rect x="539" y="272" width="3" height="30" fill="#32cd32" />
<rect x="540" y="273" width="1" height="28" fill="#28c828" />
<rect x="544" y="297" width="1" height="4" fill="#32cd32" />
<rect x="543" y="298" width="3" height="1" fill="#32cd32" />
<rect x="548" y="277" width="1" height="30" fill="#ff0000" />
<rect x="547" y="279" width="3" height="21" fill="#ff0000" />
<rect x="548" y="280" width="1" height="19" fill="#ff4000" />
<rect x="552" y="270" width="1" height="19" fill="#ff0000" />
<rect x="551" y="271" width="3" height="9" fill="#ff0000" />
<rect x="552" y="272" width="1" height="7" fill="#ff4000" />
<rect x="556" y="249" width="1" height="24" fill="#ff0000" />
<rect x="555" y="257" width="3" height="15" fill="#ff0000" />
<rect x="556" y="258" width="1" height="13" fill="#ff4000" />
<rect x="560" y="225" width="1" height="45" fill="#32cd32" />
<rect x="559" y="256" width="3" height="9" fill="#32cd32" />
<rect x="560" y="257" width="1" height="7" fill="#28c828" />
<rect x="564" y="254" width="1" height="34" fill="#32cd32" />
<rect x="563" y="264" width="3" height="17" fill="#32cd32" />
<rect x="564" y="265" width="1" height="15" fill="#28c828" />
<rect x="568" y="269" width="1" height="10" fill="#ff0000" />
<rect x="567" y="271" width="3" height="7" fill="#ff0000" />
<rect x="568" y="272" width="1" height="5" fill="#ff4000" />
<rect x="572" y="270" width="1" height="28" fill="#32cd32" />
<rect x="571" y="271" width="3" height="7" fill="#32cd32" />
<rect x="572" y="272" width="1" height="5" fill="#28c828" />
<rect x="576" y="266" width="1" height="25" fill="#ff0000" />
<rect x="575" y="270" width="3" height="7" fill="#ff0000" />
<rect x="576" y="271" width="1" height="5" fill="#ff4000" />
<rect x="580" y="244" width="1" height="29" fill="#ff0000" />
<rect x="579" y="250" width="3" height="21" fill="#ff0000" />
<rect x="580" y="251" width="1" height="19" fill="#ff4000" />
<rect x="584" y="240" width="1" height="30" fill="#32cd32" />
<rect x="583" y="250" width="3" height="4" fill="#32cd32" />
<rect x="584" y="251" width="1" height="2" fill="#28c828" />
<rect x="588" y="235" width="1" height="28" fill="#32cd32" />
<rect x="587" y="253" width="3" height="2" fill="#32cd32" />
<rect x="592" y="258" width="1" height="5" fill="#32cd32" />
<rect x="591" y="259" width="3" height="1" fill="#32cd32" />
<rect x="596" y="237" width="1" height="25" fill="#ff0000" />
<rect x="595" y="254" width="3" height="6" fill="#ff0000" />
<rect x="596" y="255" width="1" height="4" fill="#ff4000" />
<rect x="600" y="233" width="1" height="23" fill="#ff0000" />
<rect x="599" y="235" width="3" height="20" fill="#ff0000" />
<rect x="600" y="236" width="1" height="18" fill="#ff4000" />
<rect x="604" y="211" width="1" height="29" fill="#ff0000" />
<rect x="603" y="235" width="3" height="2" fill="#ff0000" />
<rect x="608" y="234" width="1" height="60" fill="#32cd32" />
<rect x="607" y="235" width="3" height="30" fill="#32cd32" />
<rect x="608" y="236" width="1" height="28" fill="#28c828" />
<rect x="612" y="231" width="1" height="42" fill="#ff0000" />
<rect x="611" y="233" width="3" height="32" fill="#ff0000" />
<rect x="612" y="234" width="1" height="30" fill="#ff4000" />
<rect x="616" y="252" width="1" height="9" fill="#ff0000" />
<rect x="615" y="254" width="3" height="3" fill="#ff0000" />
<rect x="616" y="255" width="1" height="1" fill="#ff4000" />
<rect x="620" y="218" width="1" height="43" fill="#ff0000" />
<rect x="619" y="222" width="3" height="32" fill="#ff0000" />
<rect x="620" y="223" width="1" height="30" fill="#ff4000" />
<rect x="624" y="208" width="1" height="23" fill="#ff0000" />
<rect x="623" y="221" width="3" height="1" fill="#ff0000" />
<rect x="628" y="201" width="1" height="28" fill="#ff0000" />
<rect x="627" y="207" width="3" height="15" fill="#ff0000" />
<rect x="628" y="208" width="1" height="13" fill="#ff4000" />
<rect x="632" y="183" width="1" height="32" fill="#ff0000" />
<rect x="631" y="188" width="3" height="19" fill="#ff0000" />
<rect x="632" y="189" width="1" height="17" fill="#ff4000" />
<rect x="636" y="169" width="1" height="35" fill="#ff0000" />
<rect x="635" y="173" width="3" height="15" fill="#ff0000" />
<rect x="636" y="174" width="1" height="13" fill="#ff4000" />
<rect x="640" y="162" width="1" height="19" fill="#ff0000" />
<rect x="639" y="163" width="3" height="10" fill="#ff0000" />
<rect x="640" y="164" width="1" height="8" fill="#ff4000" />
<rect x="644" y="142" width="1" height="58" fill="#32cd32" />
<rect x="643" y="163" width="3" height="29" fill="#32cd32" />
<rect x="644" y="164" width="1" height="27" fill="#28c828" />
<rect x="648" y="183" width="1" height="45" fill="#32cd32" />
<rect x="647" y="191" width="3" height="28" fill="#32cd32" />
<rect x="648" y="192" width="1" height="26" fill="#28c828" />
<rect x="652" y="187" width="1" height="32" fill="#ff0000" />
<rect x="651" y="196" width="3" height="22" fill="#ff0000" />
<rect x="652" y="197" width="1" height="20" fill="#ff4000" />
<rect x="656" y="174" width="1" height="36" fill="#ff0000" />
<rect x="655" y="175" width="3" height="21" fill="#ff0000" />
<rect x="656" y="176" width="1" height="19" fill="#ff4000" />
<rect x="660" y="175" width="1" height="33" fill="#32cd32" />
<rect x="659" y="175" width="3" height="31" fill="#32cd32" />
<rect x="660" y="176" width="1" height="29" fill="#28c828" />
<rect x="664" y="204" width="1" height="5" fill="#ff0000" />
<rect x="663" y="205" width="3" height="4" fill="#ff0000" />
<rect x="664" y="206" width="1" height="2" fill="#ff4000" />
<rect x="668" y="205" width="1" height="49" fill="#32cd32" />
<rect x="667" y="205" width="3" height="44" fill="#32cd32" />
<rect x="668" y="206" width="1" height="42" fill="#28c828" />
<rect x="672" y="235" width="1" height="28" fill="#32cd32" />
<rect x="671" y="248" width="3" height="5" fill="#32cd32" />
<rect x="672" y="249" width="1" height="3" fill="#28c828" />
<rect x="676" y="204" width="1" height="53" fill="#ff0000" />
<rect x="675" y="209" width="3" height="43" fill="#ff0000" />
<rect x="676" y="210" width="1" height="41" fill="#ff4000" />
<rect x="680" y="163" width="1" height="49" fill="#ff0000" />
<rect x="679" y="168" width="3" height="42" fill="#ff0000" />
<rect x="680" y="169" width="1" height="40" fill="#ff4000" />
<rect x="684" y="152" width="1" height="26" fill="#ff0000" />
<rect x="683" y="157" width="3" height="12" fill="#ff0000" />
<rect x="684" y="158" width="1" height="10" fill="#ff4000" />
<rect x="688" y="154" width="1" height="6" fill="#ff0000" />
<rect x="687" y="156" width="3" height="1" fill="#ff0000" />
<rect x="692" y="149" width="1" height="24" fill="#32cd32" />
<rect x="691" y="156" width="3" height="7" fill="#32cd32" />
<rect x="692" y="157" width="1" height="5" fill="#28c828" />
<rect x="696" y="127" width="1" height="45" fill="#ff0000" />
<rect x="695" y="133" width="3" height="30" fill="#ff0000" />
<rect x="696" y="134" width="1" height="28" fill="#ff4000" />
<rect x="700" y="114" width="1" height="25" fill="#ff0000" />
<rect x="699" y="117" width="3" height="17" fill="#ff0000" />
<rect x="700" y="118" width="1" height="15" fill="#ff4000" />
<rect x="704" y="105" width="1" height="27" fill="#ff0000" />
<rect x="703" y="112" width="3" height="6" fill="#ff0000" />
<rect x="704" y="113" width="1" height="4" fill="#ff4000" />
<rect x="708" y="101" width="1" height="19" fill="#ff0000" />
<rect x="707" y="107" width="3" height="6" fill="#ff0000" />
<rect x="708" y="108" width="1" height="4" fill="#ff4000" />
<rect x="712" y="107" width="1" height="5" fill="#ff0000" />
<rect x="711" y="108" width="3" height="3" fill="#ff0000" />
<rect x="712" y="109" width="1" height="1" fill="#ff4000" />
<rect x="716" y="99" width="1" height="33" fill="#32cd32" />
<rect x="715" y="109" width="3" height="10" fill="#32cd32" />
<rect x="716" y="110" width="1" height="8" fill="#28c828" />
<rect x="720" y="106" width="1" height="31" fill="#ff0000" />
<rect x="719" y="110" width="3" height="9" fill="#ff0000" />
<rect x="720" y="111" width="1" height="7" fill="#ff4000" />
<rect x="724" y="101" width="1" height="19" fill="#32cd32" />
<rect x="723" y="112" width="3" height="5" fill="#32cd32" />
<rect x="724" y="113" width="1" height="3" fill="#28c828" />
<rect x="728" y="106" width="1" height="25" fill="#32cd32" />
<rect x="727" y="116" width="3" height="5" fill="#32cd32" />
<rect x="728" y="117" width="1" height="3" fill="#28c828" />
<rect x="732" y="106" width="1" height="23" fill="#ff0000" />
<rect x="731" y="119" width="3" height="2" fill="#ff0000" />
<rect x="736" y="120" width="1" height="4" fill="#32cd32" />
<rect x="735" y="122" width="3" height="2" fill="#32cd32" />
<rect x="740" y="92" width="1" height="33" fill="#ff0000" />
<rect x="739" y="98" width="3" height="26" fill="#ff0000" />
<rect x="740" y="99" width="1" height="24" fill="#ff4000" />
<rect x="744" y="47" width="1" height="55" fill="#ff0000" />
<rect x="743" y="80" width="3" height="19" fill="#ff0000" />
<rect x="744" y="81" width="1" height="17" fill="#ff4000" />
<rect x="748" y="76" width="1" height="48" fill="#32cd32" />
<rect x="747" y="79" width="3" height="37" fill="#32cd32" />
<rect x="748" y="80" width="1" height="35" fill="#28c828" />
<rect x="752" y="111" width="1" height="21" fill="#32cd32" />
<rect x="751" y="114" width="3" height="13" fill="#32cd32" />
<rect x="752" y="115" width="1" height="11" fill="#28c828" />
<rect x="756" y="120" width="1" height="30" fill="#32cd32" />
<rect x="755" y="126" width="3" height="9" fill="#32cd32" />
<rect x="756" y="127" width="1" height="7" fill="#28c828" />
<rect x="760" y="133" width="1" height="9" fill="#32cd32" />
<rect x="759" y="133" width="3" height="8" fill="#32cd32" />
<rect x="760" y="134" width="1" height="6" fill="#28c828" />
<rect x="764" y="134" width="1" height="22" fill="#32cd32" />
<rect x="763" y="141" width="3" height="14" fill="#32cd32" />
<rect x="764" y="142" width="1" height="12" fill="#28c828" />
<rect x="768" y="121" width="1" height="38" fill="#ff0000" />
<rect x="767" y="137" width="3" height="18" fill="#ff0000" />
<rect x="768" y="138" width="1" height="16" fill="#ff4000" />
<rect x="772" y="128" width="1" height="37" fill="#32cd32" />
<rect x="771" y="137" width="3" height="2" fill="#32cd32" />
<rect x="776" y="130" width="1" height="32" fill="#32cd32" />
<rect x="775" y="137" width="3" height="21" fill="#32cd32" />
<rect x="776" y="138" width="1" height="19" fill="#28c828" />
<rect x="780" y="154" width="1" height="11" fill="#32cd32" />
<rect x="779" y="156" width="3" height="9" fill="#32cd32" />
<rect x="780" y="157" width="1" height="7" fill="#28c828" />
<rect x="784" y="159" width="1" height="5" fill="#32cd32" />
<rect x="783" y="159" width="3" height="5" fill="#32cd32" />
<rect x="784" y="160" width="1" height="3" fill="#28c828" />
<rect x="788" y="161" width="1" height="25" fill="#32cd32" />
<rect x="787" y="162" width="3" height="18" fill="#32cd32" />
<rect x="788" y="163" width="1" height="16" fill="#28c828" />
<rect x="792" y="162" width="1" height="23" fill="#ff0000" />
<rect x="791" y="163" width="3" height="17" fill="#ff0000" />
<rect x="792" y="164" width="1" height="15" fill="#ff4000" />
<rect x="796" y="135" width="1" height="38" fill="#ff0000" />
<rect x="795" y="141" width="3" height="22" fill="#ff0000" />
<rect x="796" y="142" width="1" height="20" fill="#ff4000" />
<rect x="800" y="135" width="1" height="44" fill="#32cd32" />
<rect x="799" y="141" width="3" height="37" fill="#32cd32" />
<rect x="800" y="142" width="1" height="35" fill="#28c828" />
<rect x="804" y="174" width="1" height="59" fill="#32cd32" />
<rect x="803" y="177" width="3" height="55" fill="#32cd32" />
<rect x="804" y="178" width="1" height="53" fill="#28c828" />
<rect x="808" y="229" width="1" height="5" fill="#32cd32" />
<rect x="807" y="229" width="3" height="5" fill="#32cd32" />
<rect x="808" y="230" width="1" height="3" fill="#28c828" />
<rect x="812" y="232" width="1" height="44" fill="#32cd32" />
<rect x="811" y="233" width="3" height="25" fill="#32cd32" />
<rect x="812" y="234" width="1" height="23" fill="#28c828" />
<rect x="816" y="235" width="1" height="47" fill="#32cd32" />
<rect x="815" y="257" width="3" height="17" fill="#32cd32" />
<rect x="816" y="258" width="1" height="15" fill="#28c828" />
<rect x="820" y="251" width="1" height="40" fill="#32cd32" />
<rect x="819" y="272" width="3" height="10" fill="#32cd32" />
<rect x="820" y="273" width="1" height="8" fill="#28c828" />
<rect x="824" y="264" width="1" height="47" fill="#32cd32" />
<rect x="823" y="281" width="3" height="7" fill="#32cd32" />
<rect x="824" y="282" width="1" height="5" fill="#28c828" />
<rect x="828" y="256" width="1" height="44" fill="#32cd32" />
<rect x="827" y="286" width="3" height="14" fill="#32cd32" />
<rect x="828" y="287" width="1" height="12" fill="#28c828" />
<rect x="832" y="301" width="1" height="7" fill="#32cd32" />
<rect x="831" y="304" width="3" height="4" fill="#32cd32" />
<rect x="832" y="305" width="1" height="2" fill="#28c828" />
<rect x="836" y="298" width="1" height="24" fill="#32cd32" />
<rect x="835" y="306" width="3" height="7" fill="#32cd32" />
<rect x="836" y="307" width="1" height="5" fill="#28c828" />
<rect x="840" y="270" width="1" height="42" fill="#ff0000" />
<rect x="839" y="290" width="3" height="22" fill="#ff0000" />
<rect x="840" y="291" width="1" height="20" fill="#ff4000" />
<rect x="844" y="219" width="1" height="77" fill="#ff0000" />
<rect x="843" y="225" width="3" height="66" fill="#ff0000" />
<rect x="844" y="226" width="1" height="64" fill="#ff4000" />
<rect x="848" y="218" width="1" height="83" fill="#32cd32" />
<rect x="847" y="224" width="3" height="58" fill="#32cd32" />
<rect x="848" y="225" width="1" height="56" fill="#28c828" />
<rect x="852" y="275" width="1" height="35" fill="#32cd32" />
<rect x="851" y="282" width="3" height="21" fill="#32cd32" />
<rect x="852" y="283" width="1" height="19" fill="#28c828" />
<rect x="856" y="311" width="1" height="6" fill="#32cd32" />
<rect x="855" y="312" width="3" height="4" fill="#32cd32" />
<rect x="856" y="313" width="1" height="2" fill="#28c828" />
<rect x="860" y="314" width="1" height="46" fill="#32cd32" />
<rect x="859" y="314" width="3" height="41" fill="#32cd32" />
<rect x="860" y="315" width="1" height="39" fill="#28c828" />
<rect x="864" y="340" width="1" height="34" fill="#32cd32" />
<rect x="863" y="354" width="3" height="10" fill="#32cd32" />
<rect x="864" y="355" width="1" height="8" fill="#28c828" />
<rect x="868" y="311" width="1" height="56" fill="#32cd32" />
<rect x="867" y="363" width="3" height="4" fill="#32cd32" />
<rect x="868" y="364" width="1" height="2" fill="#28c828" />
<rect x="872" y="354" width="1" height="55" fill="#32cd32" />
<rect x="871" y="366" width="3" height="26" fill="#32cd32" />
<rect x="872" y="367" width="1" height="24" fill="#28c828" />
<rect x="876" y="364" width="1" height="31" fill="#ff0000" />
<rect x="875" y="368" width="3" height="24" fill="#ff0000" />
<rect x="876" y="369" width="1" height="22" fill="#ff4000" />
<rect x="880" y="354" width="1" height="9" fill="#ff0000" />
<rect x="879" y="357" width="3" height="3" fill="#ff0000" />
<rect x="880" y="358" width="1" height="1" fill="#ff4000" />
<rect x="884" y="342" width="1" height="48" fill="#ff0000" />
<rect x="883" y="346" width="3" height="12" fill="#ff0000" />
<rect x="884" y="347" width="1" height="10" fill="#ff4000" />
<rect x="888" y="316" width="1" height="31" fill="#ff0000" />
<rect x="887" y="321" width="3" height="26" fill="#ff0000" />
<rect x="888" y="322" width="1" height="24" fill="#ff4000" />
<rect x="892" y="314" width="1" height="43" fill="#32cd32" />
<rect x="891" y="321" width="3" height="32" fill="#32cd32" />
<rect x="892" y="322" width="1" height="30" fill="#28c828" />
<rect x="896" y="302" width="1" height="53" fill="#ff0000" />
<rect x="895" y="316" width="3" height="37" fill="#ff0000" />
<rect x="896" y="317" width="1" height="35" fill="#ff4000" />
<rect x="900" y="302" width="1" height="32" fill="#32cd32" />
<rect x="899" y="316" width="3" height="11" fill="#32cd32" />
<rect x="900" y="317" width="1" height="9" fill="#28c828" />
<rect x="904" y="304" width="1" height="6" fill="#32cd32" />
<rect x="903" y="307" width="3" height="1" fill="#32cd32" />
<rect x="908" y="279" width="1" height="31" fill="#ff0000" />
<rect x="907" y="296" width="3" height="13" fill="#ff0000" />
<rect x="908" y="297" width="1" height="11" fill="#ff4000" />
<rect x="912" y="282" width="1" height="28" fill="#ff0000" />
<rect x="911" y="290" width="3" height="8" fill="#ff0000" />
<rect x="912" y="291" width="1" height="6" fill="#ff4000" />
<rect x="916" y="282" width="1" height="38" fill="#32cd32" />
<rect x="915" y="290" width="3" height="6" fill="#32cd32" />
<rect x="916" y="291" width="1" height="4" fill="#28c828" />
<rect x="920" y="286" width="1" height="24" fill="#ff0000" />
<rect x="919" y="291" width="3" height="5" fill="#ff0000" />
<rect x="920" y="292" width="1" height="3" fill="#ff4000" />
<rect x="924" y="262" width="1" height="34" fill="#ff0000" />
<rect x="923" y="266" width="3" height="26" fill="#ff0000" />
<rect x="924" y="267" width="1" height="24" fill="#ff4000" />
<rect x="3" y="450" width="3" height="5" fill="#c0c0c0" />
<rect x="7" y="450" width="3" height="2" fill="#c0c0c0" />
<rect x="11" y="447" width="3" height="3" fill="#c0c0c0" />
<rect x="15" y="444" width="3" height="6" fill="#c0c0c0" />
<rect x="19" y="442" width="3" height="8" fill="#c0c0c0" />
<rect x="23" y="442" width="3" height="8" fill="#c0c0c0" />
<rect x="27" y="443" width="3" height="7" fill="#c0c0c0" />
<rect x="31" y="443" width="3" height="7" fill="#c0c0c0" />
<rect x="35" y="444" width="3" height="6" fill="#c0c0c0" />
<rect x="39" y="445" width="3" height="5" fill="#c0c0c0" />
<rect x="43" y="445" width="3" height="5" fill="#c0c0c0" />
<rect x="47" y="446" width="3" height="4" fill="#c0c0c0" />
<rect x="51" y="447" width="3" height="3" fill="#c0c0c0" />
<rect x="55" y="449" width="3" height="1" fill="#c0c0c0" />
<rect x="59" y="450" width="3" height="2" fill="#c0c0c0" />
<rect x="63" y="450" width="3" height="4" fill="#c0c0c0" />
<rect x="67" y="450" width="3" height="5" fill="#c0c0c0" />
<rect x="71" y="450" width="3" height="7" fill="#c0c0c0" />
<rect x="75" y="450" width="3" height="9" fill="#c0c0c0" />
<rect x="79" y="450" width="3" height="8" fill="#c0c0c0" />
<rect x="83" y="450" width="3" height="8" fill="#c0c0c0" />
<rect x="87" y="450" width="3" height="8" fill="#c0c0c0" />
<rect x="91" y="450" width="3" height="7" fill="#c0c0c0" />
<rect x="95" y="450" width="3" height="8" fill="#c0c0c0" />
<rect x="99" y="450" width="3" height="10" fill="#c0c0c0" />
<rect x="103" y="450" width="3" height="11" fill="#c0c0c0" />
<rect x="107" y="450" width="3" height="10" fill="#c0c0c0" />
<rect x="111" y="450" width="3" height="8" fill="#c0c0c0" />
<rect x="115" y="450" width="3" height="7" fill="#c0c0c0" />
<rect x="119" y="450" width="3" height="6" fill="#c0c0c0" />
<rect x="123" y="450" width="3" height="5" fill="#c0c0c0" />
<rect x="127" y="450" width="3" height="4" fill="#c0c0c0" />
<rect x="131" y="450" width="3" height="2" fill="#c0c0c0" />
<rect x="135" y="450" width="3" height="2" fill="#c0c0c0" />
<rect x="139" y="449" width="3" height="1" fill="#c0c0c0" />
<rect x="143" y="448" width="3" height="2" fill="#c0c0c0" />
<rect x="147" y="446" width="3" height="4" fill="#c0c0c0" />
<rect x="151" y="444" width="3" height="6" fill="#c0c0c0" />
<rect x="155" y="441" width="3" height="9" fill="#c0c0c0" />
<rect x="159" y="440" width="3" height="10" fill="#c0c0c0" />
<rect x="163" y="439" width="3" height="11" fill="#c0c0c0" />
<rect x="167" y="437" width="3" height="13" fill="#c0c0c0" />
<rect x="171" y="434" width="3" height="16" fill="#c0c0c0" />
<rect x="175" y="433" width="3" height="17" fill="#c0c0c0" />
<rect x="179" y="433" width="3" height="17" fill="#c0c0c0" />
<rect x="183" y="433" width="3" height="17" fill="#c0c0c0" />
<rect x="187" y="433" width="3" height="17" fill="#c0c0c0" />
<rect x="191" y="432" width="3" height="18" fill="#c0c0c0" />
<rect x="195" y="432" width="3" height="18" fill="#c0c0c0" />
<rect x="199" y="431" width="3" height="19" fill="#c0c0c0" />
<rect x="203" y="431" width="3" height="19" fill="#c0c0c0" />
<rect x="207" y="431" width="3" height="19" fill="#c0c0c0" />
<rect x="211" y="431" width="3" height="19" fill="#c0c0c0" />
<rect x="215" y="434" width="3" height="16" fill="#c0c0c0" />
<rect x="219" y="436" width="3" height="14" fill="#c0c0c0" />
<rect x="223" y="439" width="3" height="11" fill="#c0c0c0" />
<rect x="227" y="442" width="3" height="8" fill="#c0c0c0" />
<rect x="231" y="444" width="3" height="6" fill="#c0c0c0" />
<rect x="235" y="445" width="3" height="5" fill="#c0c0c0" />
<rect x="239" y="447" width="3" height="3" fill="#c0c0c0" />
<rect x="243" y="449" width="3" height="1" fill="#c0c0c0" />
<rect x="247" y="450" width="3" height="5" fill="#c0c0c0" />
<rect x="251" y="450" width="3" height="6" fill="#c0c0c0" />
<rect x="255" y="450" width="3" height="7" fill="#c0c0c0" />
<rect x="259" y="450" width="3" height="8" fill="#c0c0c0" />
<rect x="263" y="450" width="3" height="9" fill="#c0c0c0" />
<rect x="267" y="450" width="3" height="11" fill="#c0c0c0" />
<rect x="271" y="450" width="3" height="12" fill="#c0c0c0" />
<rect x="275" y="450" width="3" height="14" fill="#c0c0c0" />
<rect x="279" y="450" width="3" height="16" fill="#c0c0c0" />
<rect x="283" y="450" width="3" height="17" fill="#c0c0c0" />
<rect x="287" y="450" width="3" height="18" fill="#c0c0c0" />
<rect x="291" y="450" width="3" height="19" fill="#c0c0c0" />
<rect x="295" y="450" width="3" height="20" fill="#c0c0c0" />
<rect x="299" y="450" width="3" height="22" fill="#c0c0c0" />
<rect x="303" y="450" width="3" height="23" fill="#c0c0c0" />
<rect x="307" y="450" width="3" height="24" fill="#c0c0c0" />
<rect x="311" y="450" width="3" height="24" fill="#c0c0c0" />
<rect x="315" y="450" width="3" height="25" fill="#c0c0c0" />
<rect x="319" y="450" width="3" height="26" fill="#c0c0c0" />
<rect x="323" y="450" width="3" height="29" fill="#c0c0c0" />
<rect x="327" y="450" width="3" height="30" fill="#c0c0c0" />
<rect x="331" y="450" width="3" height="30" fill="#c0c0c0" />
<rect x="335" y="450" width="3" height="27" fill="#c0c0c0" />
<rect x="339" y="450" width="3" height="24" fill="#c0c0c0" />
<rect x="343" y="450" width="3" height="22" fill="#c0c0c0" />
<rect x="347" y="450" width="3" height="19" fill="#c0c0c0" />
<rect x="351" y="450" width="3" height="17" fill="#c0c0c0" />
<rect x="355" y="450" width="3" height="16" fill="#c0c0c0" />
<rect x="359" y="450" width="3" height="15" fill="#c0c0c0" />
<rect x="363" y="450" width="3" height="13" fill="#c0c0c0" />
<rect x="367" y="450" width="3" height="11" fill="#c0c0c0" />
<rect x="371" y="450" width="3" height="11" fill="#c0c0c0" />
<rect x="375" y="450" width="3" height="11" fill="#c0c0c0" />
<rect x="379" y="450" width="3" height="11" fill="#c0c0c0" />
<rect x="383" y="450" width="3" height="10" fill="#c0c0c0" />
<rect x="387" y="450" width="3" height="7" fill="#c0c0c0" />
<rect x="391" y="450" width="3" height="4" fill="#c0c0c0" />
<rect x="395" y="450" width="3" height="2" fill="#c0c0c0" />
<rect x="399" y="449" width="3" height="1" fill="#c0c0c0" />
<rect x="403" y="448" width="3" height="2" fill="#c0c0c0" />
<rect x="407" y="447" width="3" height="3" fill="#c0c0c0" />
<rect x="411" y="445" width="3" height="5" fill="#c0c0c0" />
<rect x="415" y="444" width="3" height="6" fill="#c0c0c0" />
<rect x="419" y="443" width="3" height="7" fill="#c0c0c0" />
<rect x="423" y="442" width="3" height="8" fill="#c0c0c0" />
<rect x="427" y="444" width="3" height="6" fill="#c0c0c0" />
<rect x="431" y="444" width="3" height="6" fill="#c0c0c0" />
<rect x="435" y="445" width="3" height="5" fill="#c0c0c0" />
<rect x="439" y="446" width="3" height="4" fill="#c0c0c0" />
<rect x="443" y="447" width="3" height="3" fill="#c0c0c0" />
<rect x="447" y="449" width="3" height="1" fill="#c0c0c0" />
<rect x="451" y="449" width="3" height="1" fill="#c0c0c0" />
<rect x="455" y="449" width="3" height="1" fill="#c0c0c0" />
<rect x="459" y="447" width="3" height="3" fill="#c0c0c0" />
<rect x="463" y="445" width="3" height="5" fill="#c0c0c0" />
<rect x="467" y="446" width="3" height="4" fill="#c0c0c0" />
<rect x="471" y="447" width="3" height="3" fill="#c0c0c0" />
<rect x="475" y="447" width="3" height="3" fill="#c0c0c0" />
<rect x="479" y="448" width="3" height="2" fill="#c0c0c0" />
<rect x="483" y="447" width="3" height="3" fill="#c0c0c0" />
<rect x="487" y="448" width="3" height="2" fill="#c0c0c0" />
<rect x="491" y="450" width="3" height="1" fill="#c0c0c0" />
<rect x="495" y="450" width="3" height="1" fill="#c0c0c0" />
<rect x="499" y="450" width="3" height="3" fill="#c0c0c0" />
<rect x="503" y="450" width="3" height="4" fill="#c0c0c0" />
<rect x="507" y="450" width="3" height="5" fill="#c0c0c0" />
<rect x="511" y="450" width="3" height="9" fill="#c0c0c0" />
<rect x="515" y="450" width="3" height="13" fill="#c0c0c0" />
<rect x="519" y="450" width="3" height="16" fill="#c0c0c0" />
<rect x="523" y="450" width="3" height="16" fill="#c0c0c0" />
<rect x="527" y="450" width="3" height="14" fill="#c0c0c0" />
<rect x="531" y="450" width="3" height="13" fill="#c0c0c0" />
<rect x="535" y="450" width="3" height="11" fill="#c0c0c0" />
<rect x="539" y="450" width="3" height="11" fill="#c0c0c0" />
<rect x="543" y="450" width="3" height="11" fill="#c0c0c0" />
<rect x="547" y="450" width="3" height="10" fill="#c0c0c0" />
<rect x="551" y="450" width="3" height="8" fill="#c0c0c0" />
<rect x="555" y="450" width="3" height="6" fill="#c0c0c0" />
<rect x="559" y="450" width="3" height="5" fill="#c0c0c0" />
<rect x="563" y="450" width="3" height="4" fill="#c0c0c0" />
<rect x="567" y="450" width="3" height="4" fill="#c0c0c0" />
<rect x="571" y="450" width="3" height="3" fill="#c0c0c0" />
<rect x="575" y="450" width="3" height="3" fill="#c0c0c0" />
<rect x="579" y="450" width="3" height="1" fill="#c0c0c0" />
<rect x="583" y="449" width="3" height="1" fill="#c0c0c0" />
<rect x="587" y="448" width="3" height="2" fill="#c0c0c0" />
<rect x="591" y="448" width="3" height="2" fill="#c0c0c0" />
<rect x="595" y="447" width="3" height="3" fill="#c0c0c0" />
<rect x="599" y="445" width="3" height="5" fill="#c0c0c0" />
<rect x="603" y="444" width="3" height="6" fill="#c0c0c0" />
<rect x="607" y="445" width="3" height="5" fill="#c0c0c0" />
<rect x="611" y="444" width="3" height="6" fill="#c0c0c0" />
<rect x="615" y="444" width="3" height="6" fill="#c0c0c0" />
<rect x="619" y="443" width="3" height="7" fill="#c0c0c0" />
<rect x="623" y="442" width="3" height="8" fill="#c0c0c0" />
<rect x="627" y="440" width="3" height="10" fill="#c0c0c0" />
<rect x="631" y="437" width="3" height="13" fill="#c0c0c0" />
<rect x="635" y="435" width="3" height="15" fill="#c0c0c0" />
<rect x="639" y="432" width="3" height="18" fill="#c0c0c0" />
<rect x="643" y="432" width="3" height="18" fill="#c0c0c0" />
<rect x="647" y="434" width="3" height="16" fill="#c0c0c0" />
<rect x="651" y="434" width="3" height="16" fill="#c0c0c0" />
<rect x="655" y="433" width="3" height="17" fill="#c0c0c0" />
<rect x="659" y="434" width="3" height="16" fill="#c0c0c0" />
<rect x="663" y="436" width="3" height="14" fill="#c0c0c0" />
<rect x="667" y="440" width="3" height="10" fill="#c0c0c0" />
<rect x="671" y="443" width="3" height="7" fill="#c0c0c0" />
<rect x="675" y="443" width="3" height="7" fill="#c0c0c0" />
<rect x="679" y="440" width="3" height="10" fill="#c0c0c0" />
<rect x="683" y="438" width="3" height="12" fill="#c0c0c0" />
<rect x="687" y="436" width="3" height="14" fill="#c0c0c0" />
<rect x="691" y="435" width="3" height="15" fill="#c0c0c0" />
<rect x="695" y="433" width="3" height="17" fill="#c0c0c0" />
<rect x="699" y="430" width="3" height="20" fill="#c0c0c0" />
<rect x="703" y="428" width="3" height="22" fill="#c0c0c0" />
<rect x="707" y="426" width="3" height="24" fill="#c0c0c0" />
<rect x="711" y="425" width="3" height="25" fill="#c0c0c0" />
<rect x="715" y="425" width="3" height="25" fill="#c0c0c0" />
<rect x="719" y="425" width="3" height="25" fill="#c0c0c0" />
<rect x="723" y="425" width="3" height="25" fill="#c0c0c0" />
<rect x="727" y="426" width="3" height="24" fill="#c0c0c0" />
<rect x="731" y="426" width="3" height="24" fill="#c0c0c0" />
<rect x="735" y="428" width="3" height="22" fill="#c0c0c0" />
<rect x="739" y="428" width="3" height="22" fill="#c0c0c0" />
<rect x="743" y="427" width="3" height="23" fill="#c0c0c0" />
<rect x="747" y="428" width="3" height="22" fill="#c0c0c0" />
<rect x="751" y="430" width="3" height="20" fill="#c0c0c0" />
<rect x="755" y="433" width="3" height="17" fill="#c0c0c0" />
<rect x="759" y="435" width="3" height="15" fill="#c0c0c0" />
<rect x="763" y="438" width="3" height="12" fill="#c0c0c0" />
<rect x="767" y="440" width="3" height="10" fill="#c0c0c0" />
<rect x="771" y="441" width="3" height="9" fill="#c0c0c0" />
<rect x="775" y="443" width="3" height="7" fill="#c0c0c0" />
<rect x="779" y="446" width="3" height="4" fill="#c0c0c0" />
<rect x="783" y="447" width="3" height="3" fill="#c0c0c0" />
<rect x="787" y="449" width="3" height="1" fill="#c0c0c0" />
<rect x="791" y="450" width="3" height="2" fill="#c0c0c0" />
<rect x="795" y="450" width="3" height="1" fill="#c0c0c0" />
<rect x="799" y="450" width="3" height="3" fill="#c0c0c0" />
<rect x="803" y="450" width="3" height="8" fill="#c0c0c0" />
<rect x="807" y="450" width="3" height="11" fill="#c0c0c0" />
<rect x="811" y="450" width="3" height="16" fill="#c0c0c0" />
<rect x="815" y="450" width="3" height="20" fill="#c0c0c0" />
<rect x="819" y="450" width="3" height="24" fill="#c0c0c0" />
<rect x="823" y="450" width="3" height="26" fill="#c0c0c0" />
<rect x="827" y="450" width="3" height="29" fill="#c0c0c0" />
<rect x="831" y="450" width="3" height="32" fill="#c0c0c0" />
<rect x="835" y="450" width="3" height="33" fill="#c0c0c0" />
<rect x="839" y="450" width="3" height="33" fill="#c0c0c0" />
<rect x="843" y="450" width="3" height="28" fill="#c0c0c0" />
<rect x="847" y="450" width="3" height="28" fill="#c0c0c0" />
<rect x="851" y="450" width="3" height="29" fill="#c0c0c0" />
<rect x="855" y="450" width="3" height="30" fill="#c0c0c0" />
<rect x="859" y="450" width="3" height="32" fill="#c0c0c0" />
<rect x="863" y="450" width="3" height="35" fill="#c0c0c0" />
<rect x="867" y="450" width="3" height="37" fill="#c0c0c0" />
<rect x="871" y="450" width="3" height="39" fill="#c0c0c0" />
<rect x="875" y="450" width="3" height="39" fill="#c0c0c0" />
<rect x="879" y="450" width="3" height="38" fill="#c0c0c0" />
<rect x="883" y="450" width="3" height="36" fill="#c0c0c0" />
<rect x="887" y="450" width="3" height="33" fill="#c0c0c0" />
<rect x="891" y="450" width="3" height="32" fill="#c0c0c0" />
<rect x="895" y="450" width="3" height="28" fill="#c0c0c0" />
<rect x="899" y="450" width="3" height="26" fill="#c0c0c0" />
<rect x="903" y="450" width="3" height="22" fill="#c0c0c0" />
<rect x="907" y="450" width="3" height="19" fill="#c0c0c0" />
<rect x="911" y="450" width="3" height="15" fill="#c0c0c0" />
<rect x="915" y="450" width="3" height="13" fill="#c0c0c0" />
<rect x="919" y="450" width="3" height="10" fill="#c0c0c0" />
<rect x="923" y="450" width="3" height="7" fill="#c0c0c0" />
<path d="M729 426.5h20M725 427.5h4M749 427.5h6M721 428.5h4M755 428.5h4M717 429.5h4M759 429.5h2M714 430.5h3M761 430.5h3M712 431.5h2M764 431.5h3M201 432.5h23M710 432.5h2M767 432.5h4M196 433.5h5M224 433.5h3M707 433.5h3M771 433.5h3M192 434.5h4M227 434.5h4M659 434.5h13M705 434.5h2M774 434.5h2M188 435.5h4M231 435.5h3M654 435.5h5M672 435.5h3M703 435.5h2M776 435.5h2M186 436.5h2M234 436.5h2M651 436.5h3M675 436.5h3M701 436.5h2M778 436.5h2M183 437.5h3M236 437.5h3M648 437.5h3M678 437.5h4M696 437.5h5M780 437.5h2M180 438.5h3M239 438.5h2M644 438.5h4M682 438.5h14M782 438.5h2M178 439.5h2M241 439.5h2M641 439.5h3M784 439.5h1M175 440.5h3M243 440.5h2M638 440.5h3M785 440.5h1M173 441.5h2M245 441.5h1M636 441.5h2M786 441.5h2M171 442.5h2M246 442.5h2M632 442.5h4M788 442.5h2M169 443.5h2M248 443.5h2M628 443.5h4M790 443.5h3M36 444.5h20M167 444.5h2M250 444.5h1M435 444.5h14M622 444.5h6M793 444.5h3M34 445.5h2M56 445.5h4M165 445.5h2M251 445.5h2M431 445.5h4M449 445.5h6M616 445.5h6M796 445.5h3M32 446.5h2M60 446.5h4M162 446.5h3M253 446.5h1M426 446.5h5M455 446.5h3M613 446.5h3M799 446.5h2M30 447.5h2M64 447.5h3M159 447.5h3M254 447.5h2M422 447.5h4M458 447.5h20M482 447.5h13M611 447.5h2M801 447.5h3M28 448.5h2M67 448.5h3M155 448.5h4M256 448.5h2M419 448.5h3M478 448.5h4M495 448.5h10M605 448.5h6M804 448.5h2M26 449.5h2M70 449.5h3M152 449.5h3M258 449.5h2M416 449.5h3M505 449.5h2M599 449.5h6M806 449.5h2M24 450.5h2M73 450.5h2M149 450.5h3M260 450.5h2M414 450.5h2M507 450.5h4M595 450.5h4M808 450.5h1M22 451.5h2M75 451.5h3M147 451.5h2M262 451.5h3M411 451.5h3M511 451.5h3M591 451.5h4M809 451.5h1M21 452.5h1M78 452.5h3M144 452.5h3M265 452.5h2M409 452.5h2M514 452.5h2M586 452.5h5M810 452.5h2M19 453.5h2M81 453.5h2M141 453.5h3M267 453.5h2M407 453.5h2M516 453.5h2M581 453.5h5M812 453.5h1M17 454.5h2M83 454.5h2M138 454.5h3M269 454.5h2M405 454.5h2M518 454.5h2M577 454.5h4M813 454.5h2M16 455.5h1M85 455.5h4M134 455.5h4M271 455.5h2M402 455.5h3M520 455.5h3M572 455.5h5M815 455.5h1M14 456.5h2M89 456.5h7M130 456.5h4M273 456.5h3M399 456.5h3M523 456.5h2M568 456.5h4M816 456.5h2M13 457.5h1M96 457.5h6M124 457.5h6M276 457.5h2M397 457.5h2M525 457.5h3M564 457.5h4M818 457.5h2M11 458.5h2M102 458.5h22M278 458.5h2M394 458.5h3M528 458.5h3M560 458.5h4M820 458.5h1M10 459.5h1M280 459.5h2M391 459.5h3M531 459.5h4M557 459.5h3M821 459.5h1M8 460.5h2M282 460.5h2M389 460.5h2M535 460.5h3M554 460.5h3M822 460.5h2M7 461.5h1M284 461.5h3M385 461.5h4M538 461.5h3M551 461.5h3M824 461.5h1M5 462.5h2M287 462.5h2M381 462.5h4M541 462.5h10M825 462.5h1M4 463.5h1M289 463.5h3M377 463.5h4M826 463.5h2M292 464.5h2M373 464.5h4M828 464.5h1M294 465.5h3M370 465.5h3M829 465.5h1M297 466.5h4M368 466.5h2M830 466.5h1M301 467.5h6M366 467.5h2M831 467.5h1M307 468.5h5M364 468.5h2M832 468.5h2M312 469.5h2M362 469.5h2M834 469.5h1M923 469.5h1M314 470.5h3M361 470.5h1M835 470.5h1M921 470.5h2M317 471.5h3M360 471.5h1M836 471.5h1M920 471.5h1M320 472.5h2M358 472.5h2M837 472.5h2M919 472.5h1M322 473.5h3M353 473.5h5M839 473.5h2M917 473.5h2M325 474.5h5M347 474.5h6M841 474.5h2M916 474.5h1M330 475.5h7M343 475.5h4M843 475.5h3M914 475.5h2M337 476.5h6M846 476.5h4M913 476.5h1M850 477.5h4M911 477.5h2M854 478.5h4M910 478.5h1M858 479.5h6M908 479.5h2M864 480.5h5M907 480.5h1M869 481.5h4M905 481.5h2M873 482.5h4M903 482.5h2M877 483.5h4M899 483.5h4M881 484.5h7M895 484.5h4M888 485.5h7" fill="none" stroke="#ff0000" stroke-width="1"/>
<line x1="5" y1="517.5" x2="1166" y2="517.5" stroke="#c0c0c0" stroke-width="1" stroke-dasharray="3 3"/>
<line x1="5" y1="546.5" x2="1166" y2="546.5" stroke="#c0c0c0" stroke-width="1" stroke-dasharray="3 3"/>
<path d="M171 515.5h2M169 516.5h2M173 516.5h1M168 517.5h1M173 517.5h1M638 517.5h3M743 517.5h2M167 518.5h1M174 518.5h1M191 518.5h2M199 518.5h3M635 518.5h3M641 518.5h1M706 518.5h4M741 518.5h2M744 518.5h1M166 519.5h1M174 519.5h1M189 519.5h2M193 519.5h2M197 519.5h2M202 519.5h4M633 519.5h2M641 519.5h1M699 519.5h7M710 519.5h3M740 519.5h1M745 519.5h1M154 520.5h7M166 520.5h1M175 520.5h1M186 520.5h3M195 520.5h2M206 520.5h7M632 520.5h1M642 520.5h1M697 520.5h2M713 520.5h2M718 520.5h4M739 520.5h1M745 520.5h1M12 521.5h2M151 521.5h3M161 521.5h2M165 521.5h1M175 521.5h1M182 521.5h4M212 521.5h1M630 521.5h2M642 521.5h1M696 521.5h1M715 521.5h3M722 521.5h4M738 521.5h1M746 521.5h1M10 522.5h2M14 522.5h4M149 522.5h2M163 522.5h2M176 522.5h6M213 522.5h1M629 522.5h1M643 522.5h1M694 522.5h2M726 522.5h8M737 522.5h1M746 522.5h1M9 523.5h1M18 523.5h3M148 523.5h1M213 523.5h1M419 523.5h6M627 523.5h2M643 523.5h1M656 523.5h1M682 523.5h8M693 523.5h1M734 523.5h3M747 523.5h1M8 524.5h1M21 524.5h1M147 524.5h1M213 524.5h1M411 524.5h3M417 524.5h2M424 524.5h1M460 524.5h5M600 524.5h5M625 524.5h2M644 524.5h1M654 524.5h2M657 524.5h1M680 524.5h2M690 524.5h3M747 524.5h1M6 525.5h2M22 525.5h1M146 525.5h1M214 525.5h1M409 525.5h2M414 525.5h3M425 525.5h1M459 525.5h1M465 525.5h1M599 525.5h1M605 525.5h1M620 525.5h5M645 525.5h1M653 525.5h1M657 525.5h1M679 525.5h1M748 525.5h1M5 526.5h1M22 526.5h1M140 526.5h2M145 526.5h1M214 526.5h1M390 526.5h19M425 526.5h1M459 526.5h1M465 526.5h1M598 526.5h1M605 526.5h1M612 526.5h1M619 526.5h1M646 526.5h1M652 526.5h1M658 526.5h1M678 526.5h1M748 526.5h1M4 527.5h1M23 527.5h1M139 527.5h1M142 527.5h3M215 527.5h1M388 527.5h2M426 527.5h1M458 527.5h1M466 527.5h1M580 527.5h2M597 527.5h1M606 527.5h1M611 527.5h1M613 527.5h1M618 527.5h1M646 527.5h1M650 527.5h2M659 527.5h1M678 527.5h1M749 527.5h2M24 528.5h1M128 528.5h2M138 528.5h1M215 528.5h1M220 528.5h1M387 528.5h1M426 528.5h1M432 528.5h1M458 528.5h1M466 528.5h1M556 528.5h1M579 528.5h1M582 528.5h8M594 528.5h3M606 528.5h1M611 528.5h1M614 528.5h1M618 528.5h1M647 528.5h1M649 528.5h1M659 528.5h1M677 528.5h1M751 528.5h2M924 528.5h1M25 529.5h2M127 529.5h1M130 529.5h3M138 529.5h1M215 529.5h1M218 529.5h2M221 529.5h1M387 529.5h1M426 529.5h1M431 529.5h1M433 529.5h2M457 529.5h1M467 529.5h1M554 529.5h2M557 529.5h2M578 529.5h1M590 529.5h4M607 529.5h1M610 529.5h1M615 529.5h1M617 529.5h1M648 529.5h1M660 529.5h5M676 529.5h1M753 529.5h2M922 529.5h2M27 530.5h18M126 530.5h1M133 530.5h2M137 530.5h1M216 530.5h2M221 530.5h1M386 530.5h1M427 530.5h1M430 530.5h1M435 530.5h2M457 530.5h1M467 530.5h1M553 530.5h1M559 530.5h2M577 530.5h1M607 530.5h1M609 530.5h1M616 530.5h1M665 530.5h1M675 530.5h1M755 530.5h3M768 530.5h5M796 530.5h1M910 530.5h4M921 530.5h1M45 531.5h1M114 531.5h8M125 531.5h1M135 531.5h2M216 531.5h1M222 531.5h1M385 531.5h1M427 531.5h1M430 531.5h1M437 531.5h1M456 531.5h1M468 531.5h1M470 531.5h4M484 531.5h5M550 531.5h3M561 531.5h1M567 531.5h3M574 531.5h3M608 531.5h2M665 531.5h1M675 531.5h1M758 531.5h3M767 531.5h1M773 531.5h1M795 531.5h1M797 531.5h1M907 531.5h3M914 531.5h7M46 532.5h1M52 532.5h1M110 532.5h4M122 532.5h3M223 532.5h1M364 532.5h5M385 532.5h1M428 532.5h2M437 532.5h1M454 532.5h2M468 532.5h2M474 532.5h3M482 532.5h2M489 532.5h1M535 532.5h2M548 532.5h2M562 532.5h2M565 532.5h2M570 532.5h4M608 532.5h1M666 532.5h1M674 532.5h1M761 532.5h1M766 532.5h1M774 532.5h1M794 532.5h1M797 532.5h1M844 532.5h1M905 532.5h2M46 533.5h1M50 533.5h2M53 533.5h1M80 533.5h1M108 533.5h2M223 533.5h1M235 533.5h2M347 533.5h3M363 533.5h1M369 533.5h1M384 533.5h1M428 533.5h1M438 533.5h1M444 533.5h2M453 533.5h1M477 533.5h2M481 533.5h1M490 533.5h1M528 533.5h2M533 533.5h2M537 533.5h1M547 533.5h1M564 533.5h1M667 533.5h1M674 533.5h1M762 533.5h2M765 533.5h1M775 533.5h1M793 533.5h1M798 533.5h1M844 533.5h2M903 533.5h2M47 534.5h1M49 534.5h1M54 534.5h1M80 534.5h2M91 534.5h2M107 534.5h1M224 534.5h2M233 534.5h2M237 534.5h1M340 534.5h2M345 534.5h2M350 534.5h3M363 534.5h1M370 534.5h2M383 534.5h1M439 534.5h1M442 534.5h2M446 534.5h7M479 534.5h2M491 534.5h1M494 534.5h3M527 534.5h1M530 534.5h3M538 534.5h1M546 534.5h1M667 534.5h1M673 534.5h1M764 534.5h1M776 534.5h2M792 534.5h1M799 534.5h1M843 534.5h1M845 534.5h1M896 534.5h2M901 534.5h2M48 535.5h1M54 535.5h1M79 535.5h1M82 535.5h1M89 535.5h2M93 535.5h1M106 535.5h1M226 535.5h7M238 535.5h1M339 535.5h1M342 535.5h3M353 535.5h2M362 535.5h1M372 535.5h2M382 535.5h1M439 535.5h1M441 535.5h1M492 535.5h2M497 535.5h1M526 535.5h1M538 535.5h1M545 535.5h1M668 535.5h2M673 535.5h1M778 535.5h7M791 535.5h1M799 535.5h1M843 535.5h1M846 535.5h1M895 535.5h1M898 535.5h3M55 536.5h1M79 536.5h1M83 536.5h1M86 536.5h3M94 536.5h2M105 536.5h1M239 536.5h1M338 536.5h1M355 536.5h2M361 536.5h1M374 536.5h4M381 536.5h1M440 536.5h1M498 536.5h2M502 536.5h3M526 536.5h1M539 536.5h1M542 536.5h3M670 536.5h3M785 536.5h1M790 536.5h1M800 536.5h1M843 536.5h1M846 536.5h1M888 536.5h1M894 536.5h1M56 537.5h2M78 537.5h1M84 537.5h2M96 537.5h1M104 537.5h1M240 537.5h1M258 537.5h3M337 537.5h1M357 537.5h2M361 537.5h1M378 537.5h3M500 537.5h2M505 537.5h1M525 537.5h1M540 537.5h2M786 537.5h2M789 537.5h1M801 537.5h1M843 537.5h1M847 537.5h1M887 537.5h1M889 537.5h1M894 537.5h1M58 538.5h4M78 538.5h1M97 538.5h1M103 538.5h1M241 538.5h1M252 538.5h6M261 538.5h1M336 538.5h1M359 538.5h2M506 538.5h1M524 538.5h1M788 538.5h1M801 538.5h1M842 538.5h1M847 538.5h1M886 538.5h1M890 538.5h2M893 538.5h1M62 539.5h7M77 539.5h1M98 539.5h1M102 539.5h1M242 539.5h2M251 539.5h1M262 539.5h2M336 539.5h1M507 539.5h1M524 539.5h1M802 539.5h1M842 539.5h1M848 539.5h1M885 539.5h1M892 539.5h1M69 540.5h1M77 540.5h1M98 540.5h1M102 540.5h1M244 540.5h1M250 540.5h1M264 540.5h1M335 540.5h1M508 540.5h1M523 540.5h1M802 540.5h1M842 540.5h1M849 540.5h2M882 540.5h3M70 541.5h2M74 541.5h3M99 541.5h1M101 541.5h1M245 541.5h1M250 541.5h1M265 541.5h1M271 541.5h2M335 541.5h1M509 541.5h1M523 541.5h1M803 541.5h1M841 541.5h1M851 541.5h3M879 541.5h3M72 542.5h2M100 542.5h1M246 542.5h2M249 542.5h1M266 542.5h2M269 542.5h2M273 542.5h1M334 542.5h1M509 542.5h1M522 542.5h1M803 542.5h1M841 542.5h1M854 542.5h3M877 542.5h2M248 543.5h1M268 543.5h1M274 543.5h2M334 543.5h1M510 543.5h1M522 543.5h1M804 543.5h5M841 543.5h1M857 543.5h1M876 543.5h1M276 544.5h2M333 544.5h1M511 544.5h1M521 544.5h1M809 544.5h1M841 544.5h1M858 544.5h2M875 544.5h1M278 545.5h11M333 545.5h1M511 545.5h1M521 545.5h1M810 545.5h2M840 545.5h1M860 545.5h2M874 545.5h1M289 546.5h2M332 546.5h1M512 546.5h1M520 546.5h1M812 546.5h2M840 546.5h1M862 546.5h7M874 546.5h1M291 547.5h3M304 547.5h6M332 547.5h1M513 547.5h2M518 547.5h3M814 547.5h4M839 547.5h1M869 547.5h2M873 547.5h1M294 548.5h3M303 548.5h1M310 548.5h4M331 548.5h1M515 548.5h3M818 548.5h8M838 548.5h1M871 548.5h2M297 549.5h1M302 549.5h1M314 549.5h4M330 549.5h1M826 549.5h4M838 549.5h1M298 550.5h2M301 550.5h1M318 550.5h3M329 550.5h1M830 550.5h4M837 550.5h1M300 551.5h1M321 551.5h1M328 551.5h1M834 551.5h3M322 552.5h1M326 552.5h2M323 553.5h1M325 553.5h1M324 554.5h1" fill="none" stroke="#1e90ff" stroke-width="1"/>
<rect x="5" y="28" width="223" height="78" fill="#ffffff" />
<rect x="7" y="47" width="52" height="24" fill="url(#gSellB)" />
<rect x="8" y="48" width="50" height="23" fill="url(#gSell)" />
<rect x="7" y="71" width="109" height="33" fill="url(#gPriceB)" />
<rect x="8" y="72" width="107" height="31" fill="url(#gPrice)" />
<rect x="8" y="71" width="50" height="1" fill="#3430d4" />
<rect x="11" y="70" width="44" height="1" fill="#000090" />
<rect x="11" y="71" width="44" height="1" fill="#7878f8" />
<rect x="118" y="71" width="108" height="33" fill="url(#gPriceB)" />
<rect x="119" y="72" width="106" height="31" fill="url(#gPrice)" />
<rect x="174" y="47" width="52" height="24" fill="url(#gSellB)" />
<rect x="175" y="48" width="50" height="23" fill="url(#gSell)" />
<rect x="175" y="71" width="50" height="1" fill="#3430d4" />
<rect x="178" y="70" width="44" height="1" fill="#000090" />
<rect x="178" y="71" width="44" height="1" fill="#7878f8" />
<rect x="61.5" y="47.5" width="110" height="21" fill="#fff" stroke="#a8a8a8" stroke-width="1"/>
<rect x="63" y="49" width="19" height="18" fill="url(#gBtn)" />
<rect x="82" y="48" width="1" height="20" fill="#c0c0c0" />
<rect x="151" y="49" width="19" height="18" fill="url(#gBtn)" />
<rect x="150" y="48" width="1" height="20" fill="#c0c0c0" />
<path d="M69 56 L75 56 L72 59.5 Z" fill="#5566bb" shape-rendering="auto"/>
<path d="M157.5 59 L163.5 59 L160.5 55.5 Z" fill="#5566bb" shape-rendering="auto"/>
<text x="123" y="62" font-size="12" fill="#000" font-weight="normal" text-anchor="start" textLength="24" lengthAdjust="spacing" >2.00</text>
<text transform="translate(19.4,63.2) scale(0.86,1)" font-size="12.3" fill="#fff">SELL</text>
<text transform="translate(187.6,63.2) scale(0.92,1)" font-size="12.3" fill="#fff">BUY</text>
<text x="26.6" y="99.3" font-size="12.3" fill="#fff" font-weight="bold" text-anchor="start" textLength="24.3" lengthAdjust="spacing" >0.71</text>
<text x="136.8" y="99.3" font-size="12.3" fill="#fff" font-weight="bold" text-anchor="start" textLength="24.3" lengthAdjust="spacing" >0.71</text>
<text transform="translate(55.3,99.6) scale(0.82,1)" font-size="37.3" fill="#fff" stroke="url(#gPrice2)" stroke-width="0.9">55</text>
<text transform="translate(166.3,99.6) scale(0.82,1)" font-size="37.3" fill="#fff" stroke="url(#gPrice2)" stroke-width="0.9">56</text>
<text x="93.5" y="82.9" font-size="10.8" fill="#fff" font-weight="bold" text-anchor="start" textLength="7.2" lengthAdjust="spacingAndGlyphs" >0</text>
<text x="205" y="82.9" font-size="10.8" fill="#fff" font-weight="bold" text-anchor="start" textLength="7.2" lengthAdjust="spacingAndGlyphs" >9</text>
<path d="M7 38 L14 38 L10.5 34 Z" fill="#000" shape-rendering="auto"/>
<text x="19.6" y="39" font-size="9.8" fill="#000" font-weight="normal" text-anchor="start" textLength="68.6" lengthAdjust="spacing" >AUDUSD-,Daily</text>
<text x="93.9" y="39" font-size="9.8" fill="#000" font-weight="normal" text-anchor="start" textLength="33.2" lengthAdjust="spacing" >0.70970</text>
<text x="130.1" y="39" font-size="9.8" fill="#000" font-weight="normal" text-anchor="start" textLength="33.2" lengthAdjust="spacing" >0.71658</text>
<text x="166.1" y="39" font-size="9.8" fill="#000" font-weight="normal" text-anchor="start" textLength="33.2" lengthAdjust="spacing" >0.70883</text>
<text x="202.5" y="39" font-size="9.8" fill="#000" font-weight="normal" text-anchor="start" textLength="33.2" lengthAdjust="spacing" >0.71550</text>
<text x="8.3" y="432.9" font-size="9.8" fill="#000" font-weight="normal" text-anchor="start" textLength="65" lengthAdjust="spacing" >MACD(12,26,9)</text>
<text x="77.2" y="432.9" font-size="9.8" fill="#000" font-weight="normal" text-anchor="start" textLength="41" lengthAdjust="spacing" >-0.001775</text>
<text x="120.9" y="432.9" font-size="9.8" fill="#000" font-weight="normal" text-anchor="start" textLength="41" lengthAdjust="spacing" >-0.005321</text>
<text x="8.2" y="506.9" font-size="9.8" fill="#000" font-weight="normal" text-anchor="start" textLength="32.2" lengthAdjust="spacing" >RSI(14)</text>
<text x="43.2" y="506.9" font-size="9.8" fill="#000" font-weight="normal" text-anchor="start" textLength="33.2" lengthAdjust="spacing" >56.3664</text>
<rect x="1167" y="52" width="2" height="1" fill="#000" />
<text x="1172" y="56.3" font-size="9.8" fill="#000" font-weight="normal" text-anchor="start" textLength="33.4" lengthAdjust="spacing" >0.76470</text>
<rect x="1167" y="85" width="2" height="1" fill="#000" />
<text x="1172" y="89.3" font-size="9.8" fill="#000" font-weight="normal" text-anchor="start" textLength="33.4" lengthAdjust="spacing" >0.75710</text>
<rect x="1167" y="118" width="2" height="1" fill="#000" />
<text x="1172" y="122.3" font-size="9.8" fill="#000" font-weight="normal" text-anchor="start" textLength="33.4" lengthAdjust="spacing" >0.74950</text>
<rect x="1167" y="151" width="2" height="1" fill="#000" />
<text x="1172" y="155.3" font-size="9.8" fill="#000" font-weight="normal" text-anchor="start" textLength="33.4" lengthAdjust="spacing" >0.74210</text>
<rect x="1167" y="184" width="2" height="1" fill="#000" />
<text x="1172" y="188.3" font-size="9.8" fill="#000" font-weight="normal" text-anchor="start" textLength="33.4" lengthAdjust="spacing" >0.73450</text>
<rect x="1167" y="217" width="2" height="1" fill="#000" />
<text x="1172" y="221.3" font-size="9.8" fill="#000" font-weight="normal" text-anchor="start" textLength="33.4" lengthAdjust="spacing" >0.72690</text>
<rect x="1167" y="250" width="2" height="1" fill="#000" />
<text x="1172" y="254.3" font-size="9.8" fill="#000" font-weight="normal" text-anchor="start" textLength="33.4" lengthAdjust="spacing" >0.71930</text>
<rect x="1167" y="283" width="2" height="1" fill="#000" />
<text x="1172" y="287.3" font-size="9.8" fill="#000" font-weight="normal" text-anchor="start" textLength="33.4" lengthAdjust="spacing" >0.71170</text>
<rect x="1167" y="316" width="2" height="1" fill="#000" />
<text x="1172" y="320.3" font-size="9.8" fill="#000" font-weight="normal" text-anchor="start" textLength="33.4" lengthAdjust="spacing" >0.70410</text>
<rect x="1167" y="349" width="2" height="1" fill="#000" />
<text x="1172" y="353.3" font-size="9.8" fill="#000" font-weight="normal" text-anchor="start" textLength="33.4" lengthAdjust="spacing" >0.69650</text>
<rect x="1167" y="382" width="2" height="1" fill="#000" />
<text x="1172" y="386.3" font-size="9.8" fill="#000" font-weight="normal" text-anchor="start" textLength="33.4" lengthAdjust="spacing" >0.68890</text>
<rect x="1167" y="415" width="2" height="1" fill="#000" />
<text x="1172" y="419.3" font-size="9.8" fill="#000" font-weight="normal" text-anchor="start" textLength="33.4" lengthAdjust="spacing" >0.68130</text>
<rect x="1167" y="450" width="2" height="1" fill="#000" />
<text x="1170" y="431.3" font-size="9.8" fill="#000" font-weight="normal" text-anchor="start" textLength="38.4" lengthAdjust="spacing" >0.008197</text>
<text x="1170" y="454.3" font-size="9.8" fill="#000" font-weight="normal" text-anchor="start" textLength="17.8" lengthAdjust="spacing" >0.00</text>
<text x="1170" y="489.3" font-size="9.8" fill="#000" font-weight="normal" text-anchor="start" textLength="41.6" lengthAdjust="spacing" >-0.012121</text>
<rect x="1167" y="517" width="2" height="1" fill="#000" />
<text x="1169.6" y="521.3" font-size="9.8" fill="#000" font-weight="normal" text-anchor="start" textLength="9.8" lengthAdjust="spacing" >70</text>
<rect x="1167" y="546" width="2" height="1" fill="#000" />
<text x="1169.6" y="550.3" font-size="9.8" fill="#000" font-weight="normal" text-anchor="start" textLength="9.8" lengthAdjust="spacing" >30</text>
<text x="1170" y="505.3" font-size="9.8" fill="#000" font-weight="normal" text-anchor="start" textLength="15.8" lengthAdjust="spacing" >100</text>
<text x="1170" y="565.3" font-size="9.8" fill="#000" font-weight="normal" text-anchor="start" >0</text>
<rect x="1167" y="568" width="2" height="1" fill="#000" />
<rect x="1168" y="88" width="41" height="11" fill="#ff0000" />
<text x="1172" y="97.3" font-size="9.8" fill="#fff" font-weight="normal" text-anchor="start" textLength="33.4" lengthAdjust="spacing" >0.75512</text>
<rect x="1168" y="154" width="41" height="11" fill="#ff0000" />
<text x="1172" y="163.3" font-size="9.8" fill="#fff" font-weight="normal" text-anchor="start" textLength="33.4" lengthAdjust="spacing" >0.74002</text>
<rect x="1168" y="219" width="41" height="11" fill="#00ff00" />
<text x="1172" y="228.3" font-size="9.8" fill="#fff" font-weight="normal" text-anchor="start" textLength="33.4" lengthAdjust="spacing" >0.72504</text>
<rect x="1168" y="284" width="41" height="11" fill="#0000d2" />
<text x="1172" y="293.3" font-size="9.8" fill="#fff" font-weight="normal" text-anchor="start" textLength="33.4" lengthAdjust="spacing" >0.71013</text>
<rect x="1168" y="346" width="41" height="11" fill="#0000d2" />
<text x="1172" y="355.3" font-size="9.8" fill="#fff" font-weight="normal" text-anchor="start" textLength="33.4" lengthAdjust="spacing" >0.69582</text>
<rect x="1168" y="261" width="41" height="11" fill="#000" />
<text x="1172" y="270.3" font-size="9.8" fill="#fff" font-weight="normal" text-anchor="start" textLength="33.4" lengthAdjust="spacing" >0.71550</text>
<rect x="4" y="569" width="1" height="3" fill="#000" />
<text x="3.4" y="581" font-size="9.8" fill="#000" font-weight="normal" text-anchor="start" textLength="46.6" lengthAdjust="spacing" >1 Sep 2021</text>
<rect x="68" y="569" width="1" height="3" fill="#000" />
<text x="67.2" y="581" font-size="9.8" fill="#000" font-weight="normal" text-anchor="start" textLength="51.8" lengthAdjust="spacing" >20 Sep 2021</text>
<rect x="132" y="569" width="1" height="3" fill="#000" />
<text x="131.2" y="581" font-size="9.8" fill="#000" font-weight="normal" text-anchor="start" textLength="45.9" lengthAdjust="spacing" >8 Oct 2021</text>
<rect x="196" y="569" width="1" height="3" fill="#000" />
<text x="195.2" y="581" font-size="9.8" fill="#000" font-weight="normal" text-anchor="start" textLength="50.9" lengthAdjust="spacing" >27 Oct 2021</text>
<rect x="260" y="569" width="1" height="3" fill="#000" />
<text x="259.0" y="581" font-size="9.8" fill="#000" font-weight="normal" text-anchor="start" textLength="53.5" lengthAdjust="spacing" >15 Nov 2021</text>
<rect x="324" y="569" width="1" height="3" fill="#000" />
<text x="323.3" y="581" font-size="9.8" fill="#000" font-weight="normal" text-anchor="start" textLength="46.6" lengthAdjust="spacing" >3 Dec 2021</text>
<rect x="388" y="569" width="1" height="3" fill="#000" />
<text x="387.0" y="581" font-size="9.8" fill="#000" font-weight="normal" text-anchor="start" textLength="51.6" lengthAdjust="spacing" >22 Dec 2021</text>
<rect x="452" y="569" width="1" height="3" fill="#000" />
<text x="451.1" y="581" font-size="9.8" fill="#000" font-weight="normal" text-anchor="start" textLength="49.8" lengthAdjust="spacing" >10 Jan 2022</text>
<rect x="516" y="569" width="1" height="3" fill="#000" />
<text x="515.1" y="581" font-size="9.8" fill="#000" font-weight="normal" text-anchor="start" textLength="49.6" lengthAdjust="spacing" >28 Jan 2022</text>
<rect x="580" y="569" width="1" height="3" fill="#000" />
<text x="579.6" y="581" font-size="9.8" fill="#000" font-weight="normal" text-anchor="start" textLength="51.8" lengthAdjust="spacing" >16 Feb 2022</text>
<rect x="644" y="569" width="1" height="3" fill="#000" />
<text x="643.1" y="581" font-size="9.8" fill="#000" font-weight="normal" text-anchor="start" textLength="46.6" lengthAdjust="spacing" >7 Mar 2022</text>
<rect x="708" y="569" width="1" height="3" fill="#000" />
<text x="706.9" y="581" font-size="9.8" fill="#000" font-weight="normal" text-anchor="start" textLength="52.3" lengthAdjust="spacing" >25 Mar 2022</text>
<rect x="772" y="569" width="1" height="3" fill="#000" />
<text x="770.9" y="581" font-size="9.8" fill="#000" font-weight="normal" text-anchor="start" textLength="50.8" lengthAdjust="spacing" >13 Apr 2022</text>
<rect x="836" y="569" width="1" height="3" fill="#000" />
<text x="834.9" y="581" font-size="9.8" fill="#000" font-weight="normal" text-anchor="start" textLength="49.6" lengthAdjust="spacing" >2 May 2022</text>
<rect x="900" y="569" width="1" height="3" fill="#000" />
<text x="898.9" y="581" font-size="9.8" fill="#000" font-weight="normal" text-anchor="start" textLength="55.4" lengthAdjust="spacing" >20 May 2022</text>
<rect x="0" y="589" width="1209" height="1" fill="#e8e8e8" />
<rect x="0" y="590" width="1209" height="1" fill="#f0f0f0" />
<rect x="0" y="591" width="1209" height="1" fill="#000" />
<rect x="0" y="592" width="1209" height="23" fill="#f0f0f0" />
<rect x="0" y="591" width="1" height="19" fill="#404040" />
<rect x="0" y="610" width="1209" height="1" fill="#fafafa" />
<rect x="0" y="611" width="1209" height="1" fill="#f5f5f5" />
<rect x="214" y="590" width="106" height="19" fill="#fff" />
<rect x="213" y="591" width="1" height="19" fill="#000" />
<rect x="213" y="609" width="108" height="1" fill="#000" />
<rect x="320" y="591" width="1" height="19" fill="#000" />
<text x="16" y="606" font-size="12.3" fill="#6e6e6e" font-weight="normal" text-anchor="start" textLength="78.2" lengthAdjust="spacing" >USDX,Weekly</text>
<text x="116.3" y="606" font-size="12.3" fill="#6e6e6e" font-weight="normal" text-anchor="start" textLength="85" lengthAdjust="spacing" >EURUSD-,Daily</text>
<text x="223" y="606" font-size="12.3" fill="#000" font-weight="normal" text-anchor="start" textLength="86.8" lengthAdjust="spacing" >AUDUSD-,Daily</text>
<text x="333.4" y="606" font-size="12.3" fill="#6e6e6e" font-weight="normal" text-anchor="start" textLength="83.8" lengthAdjust="spacing" >USDCHF-,Daily</text>
<text x="440.3" y="606" font-size="12.3" fill="#6e6e6e" font-weight="normal" text-anchor="start" textLength="86.2" lengthAdjust="spacing" >USDCAD-,Daily</text>
<text x="549.4" y="606" font-size="12.3" fill="#6e6e6e" font-weight="normal" text-anchor="start" textLength="88" lengthAdjust="spacing" >USDCNH-,Daily</text>
<text x="659.6" y="606" font-size="12.3" fill="#6e6e6e" font-weight="normal" text-anchor="start" textLength="74.8" lengthAdjust="spacing" >XAUUSD-,H4</text>
<text x="756" y="606" font-size="12.3" fill="#6e6e6e" font-weight="normal" text-anchor="start" textLength="70" lengthAdjust="spacing" >UKOil-,Daily</text>
<text x="848" y="606" font-size="12.3" fill="#6e6e6e" font-weight="normal" text-anchor="start" textLength="78.5" lengthAdjust="spacing" >DJ30-,Weekly</text>
<text x="948" y="606" font-size="12.3" fill="#6e6e6e" font-weight="normal" text-anchor="start" textLength="62" lengthAdjust="spacing" >UK100-,H1</text>
<text x="1031" y="606" font-size="12.3" fill="#6e6e6e" font-weight="normal" text-anchor="start" textLength="87" lengthAdjust="spacing" >USOil-,Monthly</text>
<text x="1139" y="606" font-size="12.3" fill="#6e6e6e" font-weight="normal" text-anchor="start" textLength="37" lengthAdjust="spacing" >HK50-,</text>
<rect x="105" y="594" width="1" height="14" fill="#5a5a5a" />
<rect x="429" y="594" width="1" height="14" fill="#5a5a5a" />
<rect x="538" y="594" width="1" height="14" fill="#5a5a5a" />
<rect x="649" y="594" width="1" height="14" fill="#5a5a5a" />
<rect x="745" y="594" width="1" height="14" fill="#5a5a5a" />
<rect x="837" y="594" width="1" height="14" fill="#5a5a5a" />
<rect x="937" y="594" width="1" height="14" fill="#5a5a5a" />
<rect x="1021" y="594" width="1" height="14" fill="#5a5a5a" />
<rect x="1129" y="594" width="1" height="14" fill="#5a5a5a" />
<rect x="1177" y="593" width="8" height="16" fill="#f0f0f0" />
<path d="M1186 599 L1186 605 L1182.5 602 Z" fill="#808080" shape-rendering="auto"/>
<path d="M1200 598.5 L1200 605.5 L1204 602 Z" fill="#000" shape-rendering="auto"/>
</svg></body></html>
